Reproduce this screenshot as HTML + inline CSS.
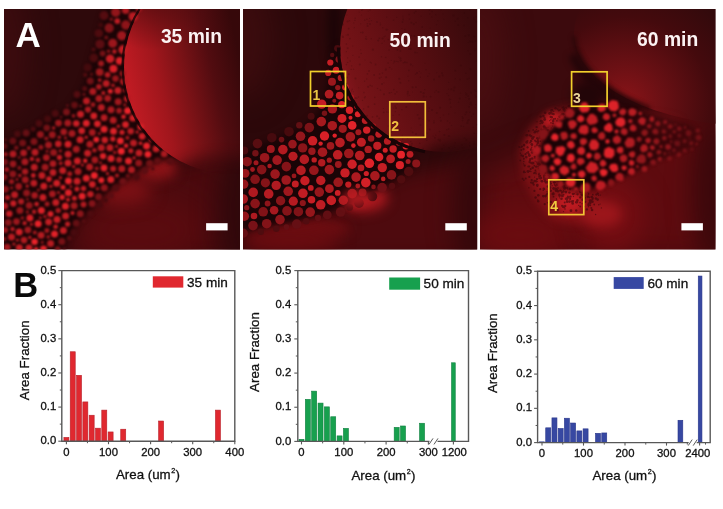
<!DOCTYPE html>
<html><head><meta charset="utf-8"><title>Figure</title>
<style>html,body{margin:0;padding:0;background:#fff;width:723px;height:509px;overflow:hidden}svg{display:block}</style></head>
<body><svg width="723" height="509" viewBox="0 0 723 509" font-family="'Liberation Sans', Arial, sans-serif">
<defs>
<mask id="m1" maskUnits="userSpaceOnUse" x="0" y="0" width="723" height="509"><rect x="0" y="0" width="723" height="509" fill="#fff"/><ellipse cx="228" cy="182" rx="62" ry="26" fill="#000" filter="url(#g8)"/></mask>
<filter id="g09" color-interpolation-filters="sRGB" x="-10%" y="-10%" width="120%" height="120%"><feGaussianBlur stdDeviation="0.85"/></filter>
<mask id="m2" maskUnits="userSpaceOnUse" x="0" y="0" width="723" height="509"><rect x="0" y="0" width="723" height="509" fill="#fff"/><ellipse cx="478" cy="162" rx="60" ry="22" fill="#000" filter="url(#g8)"/></mask>
<linearGradient id="nf3" gradientUnits="userSpaceOnUse" x1="610" y1="0" x2="700" y2="0"><stop offset="0" stop-color="#1c0306"/><stop offset="1" stop-color="#1c0306" stop-opacity="0.25"/></linearGradient>
<filter id="g07" color-interpolation-filters="sRGB" x="-10%" y="-10%" width="120%" height="120%"><feGaussianBlur stdDeviation="0.7"/></filter>
<clipPath id="cp1"><rect x="4" y="9" width="236" height="240.5"/></clipPath>
<clipPath id="cp2"><rect x="243" y="9" width="234.2" height="240.5"/></clipPath>
<clipPath id="cp3"><rect x="480" y="9" width="235.5" height="240.5"/></clipPath>
<filter id="g1" color-interpolation-filters="sRGB" x="-100%" y="-100%" width="300%" height="300%"><feGaussianBlur stdDeviation="0.6"/></filter><filter id="g2" color-interpolation-filters="sRGB" x="-100%" y="-100%" width="300%" height="300%"><feGaussianBlur stdDeviation="2"/></filter><filter id="g3" color-interpolation-filters="sRGB" x="-100%" y="-100%" width="300%" height="300%"><feGaussianBlur stdDeviation="3"/></filter><filter id="g4" color-interpolation-filters="sRGB" x="-100%" y="-100%" width="300%" height="300%"><feGaussianBlur stdDeviation="4"/></filter><filter id="g5" color-interpolation-filters="sRGB" x="-100%" y="-100%" width="300%" height="300%"><feGaussianBlur stdDeviation="5"/></filter><filter id="g6" color-interpolation-filters="sRGB" x="-100%" y="-100%" width="300%" height="300%"><feGaussianBlur stdDeviation="6"/></filter><filter id="g8" color-interpolation-filters="sRGB" x="-100%" y="-100%" width="300%" height="300%"><feGaussianBlur stdDeviation="8"/></filter><filter id="g10" color-interpolation-filters="sRGB" x="-100%" y="-100%" width="300%" height="300%"><feGaussianBlur stdDeviation="10"/></filter><filter id="g12" color-interpolation-filters="sRGB" x="-100%" y="-100%" width="300%" height="300%"><feGaussianBlur stdDeviation="12"/></filter><filter id="g15" color-interpolation-filters="sRGB" x="-100%" y="-100%" width="300%" height="300%"><feGaussianBlur stdDeviation="15"/></filter><filter id="g20" color-interpolation-filters="sRGB" x="-100%" y="-100%" width="300%" height="300%"><feGaussianBlur stdDeviation="20"/></filter>
<linearGradient id="cg1" gradientUnits="userSpaceOnUse" x1="124" y1="85" x2="240" y2="60">
 <stop offset="0" stop-color="#c41c24"/><stop offset="0.3" stop-color="#a0161c"/><stop offset="0.52" stop-color="#7a1216"/><stop offset="0.75" stop-color="#520c10"/><stop offset="1" stop-color="#36080a"/></linearGradient>
<radialGradient id="cg1t" gradientUnits="userSpaceOnUse" cx="150" cy="-10" r="60"><stop offset="0" stop-color="#3a080a" stop-opacity="0.7"/><stop offset="1" stop-color="#3a080a" stop-opacity="0"/></radialGradient>
<linearGradient id="cg2" gradientUnits="userSpaceOnUse" x1="342" y1="95" x2="477" y2="45">
 <stop offset="0" stop-color="#8c1620"/><stop offset="0.12" stop-color="#761317"/><stop offset="0.5" stop-color="#5c0e12"/><stop offset="1" stop-color="#3a0a0c"/></linearGradient>
<radialGradient id="cg3" gradientUnits="userSpaceOnUse" cx="625" cy="102" r="125">
 <stop offset="0" stop-color="#8a1418"/><stop offset="0.3" stop-color="#6a1014"/><stop offset="0.68" stop-color="#440a0d"/><stop offset="1" stop-color="#320a0c"/></radialGradient>
</defs>
<g clip-path="url(#cp1)">
<rect x="4" y="9" width="236" height="240.5" fill="#2e090b"/>
<ellipse cx="4" cy="50" rx="22" ry="70" fill="#3e0c0f" opacity="1" filter="url(#g15)"/>
<path d="M60 249.5L110 200L170 165L240 150L260 260L60 260Z" fill="#4c0a0e" opacity="1" filter="url(#g12)"/>
<ellipse cx="140" cy="230" rx="65" ry="35" fill="#5a0b0f" opacity="1" filter="url(#g15)"/>
<ellipse cx="245" cy="210" rx="28" ry="75" fill="#30080b" opacity="1" filter="url(#g12)"/>
<ellipse cx="155" cy="168" rx="22" ry="13" fill="#8a1317" opacity="1" filter="url(#g6)"/>
<ellipse cx="122" cy="190" rx="30" ry="16" fill="#7a1014" opacity="1" filter="url(#g8)"/>
<path d="M4 143L26 133L50 119L70 106L82 88L90 63L97 38L105 9L150 9L180 156L160 160L137 172L115 187L95 204L76 224L62 249.5L4 249.5Z" fill="#1c0406" opacity="1" filter="url(#g3)"/>
<circle cx="231" cy="67" r="107" fill="url(#cg1)" mask="url(#m1)"/>
<circle cx="231" cy="67" r="107" fill="url(#cg1t)"/>
<g filter="url(#g09)"><circle cx="77.1" cy="181.3" r="3.5" fill="#c81e24"/><circle cx="86.3" cy="123.2" r="3.5" fill="#dc2128"/><circle cx="104.3" cy="187.7" r="3.5" fill="#90151a"/><circle cx="26.2" cy="132.9" r="3.5" fill="#650f14"/><circle cx="50.6" cy="243.6" r="3.5" fill="#b61b21"/><circle cx="109.2" cy="28" r="4.7" fill="#7f1318"/><circle cx="29.9" cy="218" r="3.5" fill="#d41f26"/><circle cx="99.7" cy="72.1" r="3.9" fill="#9e181c"/><circle cx="62.7" cy="170.4" r="3.5" fill="#c21c22"/><circle cx="118.2" cy="101.8" r="3.5" fill="#a0181d"/><circle cx="113.5" cy="131.2" r="3.5" fill="#dc2127"/><circle cx="19.3" cy="247.8" r="3.5" fill="#c21d23"/><circle cx="52.3" cy="134.8" r="3.5" fill="#99161b"/><circle cx="68.4" cy="192.7" r="3.5" fill="#dd2128"/><circle cx="133.5" cy="143" r="3.5" fill="#b81b21"/><circle cx="156.1" cy="148.7" r="3.5" fill="#c41d23"/><circle cx="87.7" cy="67.4" r="4" fill="#440a0d"/><circle cx="101.3" cy="107.4" r="3.5" fill="#b71b21"/><circle cx="98.5" cy="196.8" r="3.5" fill="#761116"/><circle cx="100" cy="44.1" r="4.7" fill="#5b0d12"/><circle cx="4.7" cy="206" r="3.5" fill="#b21a21"/><circle cx="12.8" cy="173.9" r="3.5" fill="#8d141a"/><circle cx="29" cy="248" r="3.5" fill="#c31d23"/><circle cx="94.3" cy="175.4" r="3.5" fill="#ee232a"/><circle cx="113.4" cy="68.8" r="4" fill="#d81f27"/><circle cx="43.8" cy="186.2" r="3.5" fill="#c81d23"/><circle cx="80.2" cy="213.7" r="3.5" fill="#8c151a"/><circle cx="121.8" cy="35.7" r="4.7" fill="#9e171d"/><circle cx="47.7" cy="118.9" r="3.5" fill="#460a0d"/><circle cx="38.1" cy="223.8" r="3.5" fill="#e72229"/><circle cx="57" cy="219.5" r="3.5" fill="#c91e24"/><circle cx="78" cy="171.6" r="3.5" fill="#a8191e"/><circle cx="92.1" cy="203.4" r="3.5" fill="#841319"/><circle cx="80.5" cy="114.2" r="3.5" fill="#c51d24"/><circle cx="92.8" cy="91.5" r="3.5" fill="#ad191f"/><circle cx="66.5" cy="112" r="3.5" fill="#791217"/><circle cx="4.5" cy="161.9" r="3.5" fill="#7a1116"/><circle cx="106.2" cy="83.5" r="3.5" fill="#ba1b21"/><circle cx="87.6" cy="153.3" r="3.5" fill="#c21d23"/><circle cx="138.7" cy="163" r="3.5" fill="#91151a"/><circle cx="80.1" cy="139.7" r="3.5" fill="#c81d23"/><circle cx="110.1" cy="58.8" r="4.3" fill="#c71d24"/><circle cx="115.7" cy="12.2" r="4.7" fill="#92151a"/><circle cx="41.1" cy="235.3" r="3.5" fill="#b31b20"/><circle cx="41.4" cy="210.5" r="3.5" fill="#da2027"/><circle cx="68.1" cy="154.2" r="3.5" fill="#bb1c22"/><circle cx="117.9" cy="90.6" r="3.5" fill="#c31d23"/><circle cx="86.3" cy="178.3" r="3.5" fill="#dc2127"/><circle cx="53.6" cy="152.6" r="3.5" fill="#96161b"/><circle cx="19.2" cy="232.1" r="3.5" fill="#d11f26"/><circle cx="56.7" cy="183.2" r="3.5" fill="#ce1f25"/><circle cx="164.2" cy="153.7" r="3.5" fill="#aa191f"/><circle cx="22.6" cy="142.9" r="3.5" fill="#721015"/><circle cx="34.3" cy="167.2" r="3.5" fill="#bb1c22"/><circle cx="121.8" cy="168.8" r="3.5" fill="#ae1a1f"/><circle cx="34" cy="141.4" r="3.5" fill="#7e1217"/><circle cx="68" cy="144.2" r="3.5" fill="#d11e25"/><circle cx="131.5" cy="169.7" r="3.5" fill="#af1a20"/><circle cx="35" cy="152.3" r="3.5" fill="#b81b22"/><circle cx="61.8" cy="241.4" r="3.5" fill="#771116"/><circle cx="99" cy="98.5" r="3.5" fill="#a9191e"/><circle cx="74.1" cy="205.7" r="3.5" fill="#a0181c"/><circle cx="12.9" cy="141.1" r="3.5" fill="#640e13"/><circle cx="111" cy="158.6" r="3.5" fill="#d92027"/><circle cx="14.6" cy="194.7" r="3.5" fill="#ba1b22"/><circle cx="72" cy="133.6" r="3.5" fill="#a5181e"/><circle cx="113.2" cy="120.2" r="3.5" fill="#b11a1f"/><circle cx="77.4" cy="161" r="3.5" fill="#ce1e24"/><circle cx="104.1" cy="129.2" r="3.5" fill="#df2128"/><circle cx="127.6" cy="110.8" r="3.5" fill="#ed232a"/><circle cx="93.8" cy="57.9" r="4.3" fill="#4b0b0e"/><circle cx="55.8" cy="202.4" r="3.5" fill="#c31d23"/><circle cx="110.8" cy="179.6" r="3.5" fill="#d72027"/><circle cx="25.3" cy="179.7" r="3.5" fill="#9f171d"/><circle cx="68" cy="163.1" r="3.5" fill="#c51e24"/><circle cx="8.2" cy="222.6" r="3.5" fill="#8b1519"/><circle cx="24.9" cy="161.8" r="3.5" fill="#a8181f"/><circle cx="13" cy="154.1" r="3.5" fill="#b01920"/><circle cx="86.5" cy="100.9" r="3.5" fill="#bb1b21"/><circle cx="146.6" cy="146.1" r="3.5" fill="#e62229"/><circle cx="133.2" cy="16.6" r="4.7" fill="#b81b22"/><circle cx="101.3" cy="147.7" r="3.5" fill="#b31a20"/><circle cx="65.4" cy="206.2" r="3.5" fill="#dd2127"/><circle cx="5.3" cy="189.3" r="3.5" fill="#8a1419"/><circle cx="63.4" cy="230.4" r="3.5" fill="#c21d23"/><circle cx="125.8" cy="25" r="4.7" fill="#8d1419"/><circle cx="54.5" cy="234" r="3.5" fill="#e22128"/><circle cx="111" cy="109.8" r="3.5" fill="#aa191f"/><circle cx="55.3" cy="113.4" r="3.5" fill="#4c0b0f"/><circle cx="115.9" cy="188.1" r="3.5" fill="#530c10"/><circle cx="123" cy="49.7" r="4.6" fill="#c21d23"/><circle cx="89.9" cy="144.3" r="3.5" fill="#ab1a1f"/><circle cx="139" cy="153.1" r="3.5" fill="#bf1c22"/><circle cx="29.2" cy="205.6" r="3.5" fill="#91151a"/><circle cx="89.6" cy="167.1" r="3.5" fill="#b41b20"/><circle cx="48.5" cy="145.1" r="3.5" fill="#a1181e"/><circle cx="19.9" cy="210.5" r="3.5" fill="#94151a"/><circle cx="42.9" cy="197.4" r="3.5" fill="#c61d23"/><circle cx="67.8" cy="123" r="3.5" fill="#a3181e"/><circle cx="41.9" cy="175.5" r="3.5" fill="#c01c22"/><circle cx="40.4" cy="134.4" r="3.5" fill="#93151b"/><circle cx="65.6" cy="215.9" r="3.5" fill="#c21d23"/><circle cx="82.1" cy="196.3" r="3.5" fill="#e52229"/><circle cx="132.9" cy="117.9" r="3.5" fill="#d21f25"/><circle cx="170.4" cy="161.2" r="3.5" fill="#590d11"/><circle cx="109.9" cy="147.7" r="3.5" fill="#bb1c21"/><circle cx="11.5" cy="237" r="3.5" fill="#b91b21"/><circle cx="76.3" cy="149.2" r="3.5" fill="#a7191e"/><circle cx="121.3" cy="151.3" r="3.5" fill="#ef232b"/><circle cx="74" cy="232.4" r="3.5" fill="#480a0e"/><circle cx="149.6" cy="163.2" r="3.5" fill="#6f1114"/><circle cx="26.6" cy="192.9" r="3.5" fill="#8f151a"/><circle cx="45.1" cy="167.2" r="3.5" fill="#9e171c"/><circle cx="128.5" cy="161.1" r="3.5" fill="#dd2127"/><circle cx="122.8" cy="181.4" r="3.4" fill="#6e1015"/><circle cx="92.3" cy="132.5" r="3.4" fill="#a6181d"/><circle cx="46.8" cy="127.8" r="3.4" fill="#741115"/><circle cx="48.6" cy="222" r="3.4" fill="#c01d22"/><circle cx="33.8" cy="183.2" r="3.4" fill="#b91b22"/><circle cx="90.3" cy="81" r="3.5" fill="#6f1015"/><circle cx="53" cy="172.5" r="3.4" fill="#be1c23"/><circle cx="104" cy="168" r="3.4" fill="#e32228"/><circle cx="81.7" cy="130.8" r="3.4" fill="#cb1e25"/><circle cx="39.1" cy="123.5" r="3.4" fill="#4c0b0f"/><circle cx="46.3" cy="157.6" r="3.4" fill="#a8181e"/><circle cx="18.7" cy="186.5" r="3.4" fill="#9a161c"/><circle cx="27.9" cy="229.9" r="3.4" fill="#a1181d"/><circle cx="16.5" cy="221.6" r="3.4" fill="#9d171d"/><circle cx="24" cy="240.1" r="3.4" fill="#b01a1f"/><circle cx="104.1" cy="117.7" r="3.4" fill="#b51a20"/><circle cx="123.6" cy="81.6" r="3.5" fill="#b41a20"/><circle cx="142.2" cy="136.3" r="3.4" fill="#ce1e25"/><circle cx="147.9" cy="154.3" r="3.4" fill="#ec232a"/><circle cx="93.8" cy="115.9" r="3.4" fill="#d11f25"/><circle cx="23.6" cy="152.9" r="3.4" fill="#ab1920"/><circle cx="144.8" cy="170.8" r="3.4" fill="#5c0e12"/><circle cx="77.1" cy="94.5" r="3.4" fill="#540c10"/><circle cx="120.4" cy="140.9" r="3.4" fill="#e9232a"/><circle cx="125.5" cy="124.6" r="3.4" fill="#d72026"/><circle cx="76.2" cy="223.2" r="3.4" fill="#640f13"/><circle cx="94.9" cy="160" r="3.4" fill="#a6181d"/><circle cx="74.5" cy="105.1" r="3.4" fill="#630e12"/><circle cx="7.2" cy="247.2" r="3.4" fill="#a2171d"/><circle cx="107.7" cy="98.3" r="3.4" fill="#a3181d"/><circle cx="13" cy="164" r="3.4" fill="#98161c"/><circle cx="58.5" cy="123.1" r="3.4" fill="#9e171c"/><circle cx="112.7" cy="43.2" r="4.5" fill="#9c161c"/><circle cx="97.4" cy="123.8" r="3.4" fill="#d72026"/><circle cx="92.3" cy="184.3" r="3.4" fill="#ca1e24"/><circle cx="52.4" cy="193.9" r="3.4" fill="#a5181e"/><circle cx="68.4" cy="180.9" r="3.4" fill="#e9232a"/><circle cx="53" cy="163.7" r="3.4" fill="#ac191f"/><circle cx="130.7" cy="131.2" r="3.3" fill="#b71b21"/><circle cx="43.5" cy="248.9" r="3.3" fill="#e32228"/><circle cx="4.2" cy="177.1" r="3.3" fill="#811217"/><circle cx="58.3" cy="143.9" r="3.3" fill="#bf1c22"/><circle cx="157.5" cy="160.9" r="3.3" fill="#600e12"/><circle cx="63.7" cy="131.9" r="3.3" fill="#a5181e"/><circle cx="127.1" cy="98.7" r="3.3" fill="#b21a20"/><circle cx="76.3" cy="123.5" r="3.3" fill="#cb1e25"/><circle cx="136.5" cy="177.1" r="3.3" fill="#4c0b0f"/><circle cx="34.6" cy="241.7" r="3.3" fill="#eb232a"/><circle cx="104.1" cy="15.6" r="4.5" fill="#550c10"/><circle cx="140.7" cy="126.7" r="3.3" fill="#d72026"/><circle cx="104.8" cy="140.1" r="3.3" fill="#c91e24"/><circle cx="34.6" cy="195.4" r="3.3" fill="#a7181e"/><circle cx="90.4" cy="194.2" r="3.3" fill="#bd1c22"/><circle cx="9.2" cy="213.8" r="3.3" fill="#c61d24"/><circle cx="4.1" cy="146.3" r="3.2" fill="#5b0d11"/><circle cx="119.7" cy="60.8" r="3.9" fill="#db2027"/><circle cx="103" cy="156.1" r="3.2" fill="#dc2127"/><circle cx="17.4" cy="133.9" r="3.2" fill="#4b0b0f"/><circle cx="25.1" cy="171.6" r="3.2" fill="#ab191f"/><circle cx="98.9" cy="33.3" r="4.3" fill="#4e0b0f"/><circle cx="88" cy="109.6" r="3.1" fill="#ad191f"/><circle cx="21.1" cy="201.5" r="3.1" fill="#ad1a20"/><circle cx="115.5" cy="78.6" r="3.3" fill="#98161b"/><circle cx="90.5" cy="213.8" r="3.1" fill="#4f0b0f"/><circle cx="13.3" cy="203.4" r="3.1" fill="#c61d24"/><circle cx="113.1" cy="168.8" r="3" fill="#b61b20"/><circle cx="50.5" cy="213.9" r="3" fill="#d92027"/><circle cx="83.5" cy="204.4" r="3" fill="#b11a20"/><circle cx="119.1" cy="159.7" r="3" fill="#b01a1f"/><circle cx="101.3" cy="180.3" r="3" fill="#e82229"/><circle cx="119.1" cy="110.7" r="2.9" fill="#a1181d"/><circle cx="5.3" cy="230" r="2.9" fill="#a0171d"/><circle cx="96.3" cy="139.6" r="2.9" fill="#ed232b"/><circle cx="100" cy="204.9" r="2.9" fill="#480a0e"/><circle cx="111.1" cy="195.7" r="2.9" fill="#5b0d12"/><circle cx="57.7" cy="249.2" r="2.9" fill="#7e1217"/><circle cx="49" cy="179.1" r="2.8" fill="#ce1e25"/><circle cx="125.6" cy="10.3" r="3.7" fill="#ac191f"/><circle cx="98.9" cy="86.8" r="2.8" fill="#aa191f"/><circle cx="62.1" cy="197.3" r="2.7" fill="#da2127"/><circle cx="122.6" cy="73.6" r="3" fill="#9b171c"/><circle cx="11.5" cy="181.6" r="2.7" fill="#99161c"/><circle cx="83.5" cy="188.5" r="2.7" fill="#bd1c22"/><circle cx="107.6" cy="74.8" r="2.9" fill="#b31a20"/><circle cx="58.2" cy="210.4" r="2.7" fill="#a9191e"/><circle cx="84.7" cy="88.6" r="2.6" fill="#540c10"/><circle cx="122" cy="132.3" r="2.6" fill="#cc1e24"/><circle cx="130.8" cy="150.8" r="2.6" fill="#bf1c22"/><circle cx="67.6" cy="224.1" r="2.6" fill="#be1d22"/><circle cx="112.8" cy="138.9" r="2.6" fill="#d01f25"/><circle cx="7.5" cy="197.5" r="2.6" fill="#b71b22"/><circle cx="59.5" cy="157.4" r="2.6" fill="#c61d24"/><circle cx="69.4" cy="238.3" r="2.5" fill="#560c11"/><circle cx="40.9" cy="147.3" r="2.5" fill="#94151b"/><circle cx="6.7" cy="169.4" r="2.5" fill="#a8181f"/><circle cx="33.1" cy="128.9" r="2.5" fill="#4c0b0f"/><circle cx="47.1" cy="204.1" r="2.5" fill="#a0181d"/><circle cx="110.3" cy="91.3" r="2.5" fill="#e22229"/><circle cx="74.4" cy="198.3" r="2.5" fill="#cb1e24"/><circle cx="63" cy="187.2" r="2.5" fill="#d92026"/><circle cx="76.9" cy="189" r="2.5" fill="#ca1e24"/><circle cx="101.1" cy="63.5" r="2.9" fill="#a0181d"/><circle cx="46.9" cy="230.6" r="2.5" fill="#a2181d"/><circle cx="69.7" cy="173.7" r="2.5" fill="#ab191e"/><circle cx="36.6" cy="204.1" r="2.4" fill="#c61d24"/><circle cx="37.9" cy="160.1" r="2.4" fill="#aa191f"/><circle cx="93" cy="104.7" r="2.4" fill="#9e171c"/><circle cx="33.3" cy="175.5" r="2.4" fill="#c81d24"/><circle cx="150.9" cy="139.8" r="2.4" fill="#ac191f"/><circle cx="12.5" cy="229.1" r="2.3" fill="#b31b21"/><circle cx="105.7" cy="200.3" r="2.3" fill="#440a0d"/><circle cx="123.5" cy="116.8" r="2.3" fill="#d92027"/><circle cx="138.9" cy="9.1" r="3.1" fill="#9e171d"/><circle cx="16.3" cy="147.7" r="2.3" fill="#771116"/><circle cx="102.6" cy="53.5" r="2.9" fill="#751116"/><circle cx="127.9" cy="176" r="2.3" fill="#660f13"/><circle cx="94.4" cy="150.2" r="2.3" fill="#ae1a1f"/><circle cx="55.6" cy="226.8" r="2.3" fill="#ca1e24"/><circle cx="34.1" cy="211.7" r="2.2" fill="#b81b21"/><circle cx="36.1" cy="249.2" r="2.2" fill="#ec232a"/><circle cx="31.9" cy="158.9" r="2.2" fill="#be1c23"/><circle cx="126.1" cy="145.8" r="2.2" fill="#df2128"/><circle cx="5.5" cy="154.3" r="2.2" fill="#9e171d"/><circle cx="85.2" cy="160.8" r="2.2" fill="#e22228"/><circle cx="117.3" cy="21.1" r="2.9" fill="#bf1c23"/><circle cx="125.1" cy="90.5" r="2.1" fill="#a0181d"/><circle cx="19.4" cy="167.9" r="2.1" fill="#841318"/><circle cx="28.8" cy="148.1" r="2.1" fill="#92151b"/><circle cx="4.2" cy="239" r="2.1" fill="#94151a"/><circle cx="24.6" cy="223.2" r="2.1" fill="#c11d23"/><circle cx="117" cy="175.6" r="2.1" fill="#a7191d"/><circle cx="46.3" cy="138.5" r="2.1" fill="#92151b"/><circle cx="60.7" cy="163.3" r="2" fill="#aa191f"/><circle cx="127.4" cy="137.8" r="2" fill="#a7191e"/><circle cx="72.5" cy="213.1" r="2" fill="#d31f26"/><circle cx="85.2" cy="74.9" r="2.1" fill="#540c10"/><circle cx="103.3" cy="92.9" r="2" fill="#c11d23"/><circle cx="96.7" cy="168.6" r="2" fill="#a2181d"/><circle cx="64.2" cy="248.9" r="2" fill="#4d0b0f"/><circle cx="68" cy="199.7" r="1.9" fill="#d62026"/><circle cx="34.8" cy="232.5" r="1.9" fill="#a9191e"/><circle cx="73.5" cy="115.8" r="1.9" fill="#9a161c"/><circle cx="100.6" cy="25" r="2.5" fill="#40090c"/><circle cx="22.3" cy="218" r="1.8" fill="#97161b"/><circle cx="113" cy="85.3" r="1.9" fill="#a8181e"/><circle cx="59.3" cy="137.3" r="1.8" fill="#a6191e"/><circle cx="99.7" cy="80.1" r="1.9" fill="#ae191f"/><circle cx="19.8" cy="175.5" r="1.8" fill="#b71b22"/><circle cx="118.4" cy="126.3" r="1.8" fill="#b91b21"/><circle cx="48.2" cy="236.9" r="1.8" fill="#a1181d"/><circle cx="140.5" cy="143.3" r="1.8" fill="#e22128"/><circle cx="97.5" cy="188.7" r="1.8" fill="#a1171c"/><circle cx="44.9" cy="216.5" r="1.7" fill="#a4181d"/><circle cx="53.6" cy="128" r="1.7" fill="#b21a21"/><circle cx="114.4" cy="51.5" r="2.2" fill="#c01c23"/><circle cx="60.5" cy="177.7" r="1.7" fill="#b31b20"/><circle cx="114.8" cy="152.4" r="1.7" fill="#aa191e"/><circle cx="84" cy="94.4" r="1.6" fill="#6e1015"/><circle cx="60.3" cy="150.9" r="1.6" fill="#a8191e"/><circle cx="83.7" cy="221.2" r="1.6" fill="#5b0d12"/><circle cx="17.4" cy="240.1" r="1.6" fill="#b51b20"/><circle cx="27.4" cy="211.9" r="1.6" fill="#98161b"/><circle cx="27.2" cy="186.1" r="1.6" fill="#c71d24"/><circle cx="29.9" cy="237.4" r="1.6" fill="#cc1e24"/><circle cx="91.5" cy="74.3" r="1.7" fill="#590d11"/><circle cx="38.4" cy="190.1" r="1.5" fill="#98161b"/><circle cx="93.5" cy="49.5" r="2" fill="#4e0b0f"/><circle cx="106.2" cy="37.5" r="2" fill="#6f1014"/><circle cx="73.7" cy="166.5" r="1.5" fill="#ce1e24"/><circle cx="107.5" cy="173.4" r="1.5" fill="#d11f25"/><circle cx="152.9" cy="168.7" r="1.5" fill="#41090d"/><circle cx="86.2" cy="137.3" r="1.5" fill="#d82027"/><circle cx="5.5" cy="139.8" r="1.5" fill="#590d11"/><circle cx="67.5" cy="105.5" r="1.5" fill="#5e0d12"/><circle cx="50.9" cy="186.2" r="1.5" fill="#c91d24"/><circle cx="13.9" cy="243.9" r="1.5" fill="#c91e24"/><circle cx="70.9" cy="186.7" r="1.4" fill="#ac191f"/><circle cx="27.4" cy="199.3" r="1.4" fill="#8f1519"/><circle cx="42.2" cy="242.3" r="1.4" fill="#a5181d"/><circle cx="134.1" cy="157.9" r="1.4" fill="#ed232a"/><circle cx="82.4" cy="165.1" r="1.4" fill="#d21f26"/><circle cx="137.1" cy="132.1" r="1.4" fill="#eb232a"/><circle cx="40.3" cy="217.8" r="1.4" fill="#b61b20"/><circle cx="31.4" cy="224.3" r="1.4" fill="#d21f26"/><circle cx="108.6" cy="51.2" r="1.8" fill="#8c1419"/><circle cx="19.2" cy="157.5" r="1.4" fill="#841319"/><circle cx="61" cy="117.1" r="1.4" fill="#670f14"/><circle cx="116.5" cy="146.4" r="1.4" fill="#cc1e24"/><circle cx="65.5" cy="138" r="1.4" fill="#b61a20"/><circle cx="47.1" cy="151.3" r="1.4" fill="#a8181e"/><circle cx="111.3" cy="19.3" r="1.8" fill="#7b1217"/><circle cx="58.5" cy="192.6" r="1.4" fill="#c91d24"/><circle cx="17" cy="179.5" r="1.3" fill="#bc1b22"/><circle cx="100.5" cy="162.7" r="1.3" fill="#c41d23"/><circle cx="11.6" cy="187.9" r="1.3" fill="#b41a20"/><circle cx="80.6" cy="106.1" r="1.3" fill="#7a1217"/><circle cx="124.8" cy="104.9" r="1.3" fill="#be1c22"/><circle cx="99.3" cy="133.6" r="1.3" fill="#ca1e24"/></g>
<path d="M139.5 9 A108.3 108.3 0 0 0 161.4 150" fill="none" stroke="#180406" stroke-width="2.2" opacity="0.8" filter="url(#g1)"/>
</g>
<g clip-path="url(#cp2)">
<rect x="243" y="9" width="234.2" height="240.5" fill="#2c080a"/>
<ellipse cx="243" cy="40" rx="30" ry="60" fill="#3c0c0e" opacity="1" filter="url(#g15)"/>
<ellipse cx="334" cy="30" rx="7" ry="40" fill="#1c0507" opacity="1" filter="url(#g4)"/>
<path d="M243 230L300 218L350 205L400 175L477 160L477 260L243 260Z" fill="#4e0a0e" opacity="1" filter="url(#g10)"/>
<ellipse cx="362" cy="198" rx="26" ry="14" fill="#a8181e" opacity="1" filter="url(#g6)"/>
<ellipse cx="300" cy="228" rx="50" ry="10" fill="#6e0d11" opacity="1" filter="url(#g6)"/>
<ellipse cx="290" cy="240" rx="50" ry="12" fill="#6a0c10" opacity="1" filter="url(#g8)"/>
<ellipse cx="474" cy="210" rx="22" ry="70" fill="#36080b" opacity="1" filter="url(#g12)"/>
<path d="M243 153L262 144L282 136L303 126L318 113L325 93L329 70L333 52L342 44L415 166L399 177L372 193L342 207L294 222L243 231Z" fill="#1a0406" opacity="1" filter="url(#g3)"/>
<circle cx="444.5" cy="47.5" r="104.5" fill="url(#cg2)" mask="url(#m2)"/>
<g fill="#2a0608" opacity="0.22" filter="url(#g1)"><circle cx="440.1" cy="107.7" r="1"/><circle cx="469.2" cy="106.9" r="0.8"/><circle cx="402.7" cy="139.1" r="0.8"/><circle cx="430.4" cy="9.3" r="0.6"/><circle cx="473.8" cy="141.6" r="0.9"/><circle cx="380.5" cy="90.1" r="0.9"/><circle cx="392.2" cy="40" r="0.6"/><circle cx="348.9" cy="74.3" r="1"/><circle cx="367.1" cy="115.7" r="0.9"/><circle cx="460.5" cy="93" r="0.6"/><circle cx="411.6" cy="22.4" r="0.5"/><circle cx="464.3" cy="13.1" r="0.8"/><circle cx="361.2" cy="53.5" r="0.8"/><circle cx="370.1" cy="9.9" r="0.8"/><circle cx="470.5" cy="69.1" r="1.1"/><circle cx="386" cy="68.2" r="0.5"/><circle cx="393.8" cy="89.6" r="0.8"/><circle cx="462.3" cy="116.8" r="0.7"/><circle cx="359.2" cy="11.9" r="0.5"/><circle cx="473.5" cy="114.2" r="0.9"/><circle cx="453.5" cy="15.7" r="1.1"/><circle cx="416" cy="22.5" r="0.7"/><circle cx="355.5" cy="78.5" r="1"/><circle cx="354.9" cy="20.4" r="0.7"/><circle cx="475.5" cy="41.1" r="1"/><circle cx="361.5" cy="15" r="0.6"/><circle cx="387.7" cy="29.6" r="0.6"/><circle cx="440.9" cy="120.7" r="1"/><circle cx="432.1" cy="11.5" r="0.8"/><circle cx="447" cy="93.6" r="0.7"/><circle cx="440.3" cy="117.6" r="0.7"/><circle cx="475" cy="19.6" r="0.6"/><circle cx="470.1" cy="41.4" r="1"/><circle cx="433.1" cy="136" r="0.6"/><circle cx="428.9" cy="120.7" r="1"/><circle cx="447.5" cy="121" r="0.7"/><circle cx="471.5" cy="116.3" r="0.6"/><circle cx="423.2" cy="148.4" r="0.7"/><circle cx="442" cy="73.2" r="1"/><circle cx="446.8" cy="129.7" r="0.8"/><circle cx="448.6" cy="82.3" r="0.6"/><circle cx="420.4" cy="77.2" r="0.6"/><circle cx="389.1" cy="50" r="0.8"/><circle cx="368.1" cy="86.8" r="1.1"/><circle cx="393.1" cy="115.3" r="0.6"/><circle cx="475.2" cy="95.1" r="0.6"/><circle cx="470.8" cy="102.6" r="1"/><circle cx="388.1" cy="63.1" r="0.8"/><circle cx="434.6" cy="137.3" r="0.5"/><circle cx="429.3" cy="108.1" r="0.6"/><circle cx="434" cy="79.5" r="1"/><circle cx="388.3" cy="112.2" r="0.6"/><circle cx="388.3" cy="126.1" r="0.5"/><circle cx="388.3" cy="39.6" r="0.8"/><circle cx="462.1" cy="145" r="0.7"/><circle cx="379.6" cy="78.1" r="0.9"/><circle cx="402.2" cy="109.7" r="0.5"/><circle cx="410.9" cy="130.8" r="0.6"/><circle cx="391.2" cy="60.3" r="0.6"/><circle cx="374.6" cy="104.2" r="0.9"/><circle cx="359.1" cy="57.1" r="0.8"/><circle cx="417.7" cy="114.8" r="0.9"/><circle cx="364.8" cy="20.1" r="0.8"/><circle cx="408" cy="102.6" r="0.6"/><circle cx="365.4" cy="96.4" r="0.5"/><circle cx="360.8" cy="23.8" r="0.6"/><circle cx="409.5" cy="19.1" r="0.7"/><circle cx="389.2" cy="110" r="0.6"/><circle cx="426.9" cy="133.6" r="0.8"/><circle cx="407.5" cy="138.3" r="0.6"/><circle cx="459.8" cy="98.6" r="1"/><circle cx="378.2" cy="40.5" r="1.1"/><circle cx="448.6" cy="95.5" r="0.8"/><circle cx="467.4" cy="122.9" r="1.1"/><circle cx="382.6" cy="38.5" r="1.1"/><circle cx="412.7" cy="132.3" r="0.9"/><circle cx="429.4" cy="10.1" r="0.8"/><circle cx="455.3" cy="78.7" r="0.7"/><circle cx="443.7" cy="19.2" r="0.5"/><circle cx="366.8" cy="79" r="0.7"/><circle cx="434" cy="120.7" r="0.6"/><circle cx="400.7" cy="60.5" r="1.1"/><circle cx="421.2" cy="16.2" r="0.6"/><circle cx="442.7" cy="75.5" r="0.9"/><circle cx="408.8" cy="70.4" r="0.8"/><circle cx="426.8" cy="140.4" r="0.7"/><circle cx="467.9" cy="120.8" r="0.9"/><circle cx="395.1" cy="121.1" r="0.5"/><circle cx="470.2" cy="54.1" r="1"/><circle cx="371.3" cy="38.7" r="0.7"/><circle cx="365" cy="60.1" r="0.5"/><circle cx="474.3" cy="36.6" r="0.9"/><circle cx="418.8" cy="101.1" r="0.9"/><circle cx="364.6" cy="81.3" r="0.7"/><circle cx="474.9" cy="90.1" r="0.8"/><circle cx="381.2" cy="77.2" r="0.6"/><circle cx="464" cy="25.6" r="0.8"/><circle cx="379.3" cy="118.4" r="0.9"/><circle cx="397.8" cy="41.3" r="0.9"/><circle cx="423.7" cy="96.6" r="1"/><circle cx="448.6" cy="128.9" r="0.9"/><circle cx="474.1" cy="144.3" r="1"/><circle cx="410.8" cy="45" r="0.6"/><circle cx="440" cy="139.5" r="0.7"/><circle cx="409.5" cy="44.3" r="1.1"/><circle cx="351.6" cy="65.9" r="0.6"/><circle cx="454.4" cy="87.5" r="1.1"/><circle cx="476.4" cy="21.6" r="0.9"/><circle cx="466.3" cy="94.4" r="1.1"/><circle cx="425.9" cy="138.3" r="0.9"/><circle cx="401.6" cy="109.6" r="0.6"/><circle cx="403.2" cy="19.6" r="0.8"/><circle cx="411.4" cy="22.7" r="1"/><circle cx="354.3" cy="27.7" r="0.6"/><circle cx="419.2" cy="118.5" r="1"/><circle cx="368.3" cy="106.8" r="1"/><circle cx="395.3" cy="106.3" r="0.8"/><circle cx="423.6" cy="93.2" r="1.1"/><circle cx="409.1" cy="14.5" r="0.7"/><circle cx="470.2" cy="10.1" r="0.8"/><circle cx="384.1" cy="36.8" r="0.7"/><circle cx="439.6" cy="131.6" r="0.8"/><circle cx="380.4" cy="24.8" r="0.8"/><circle cx="408" cy="9.3" r="0.5"/><circle cx="449" cy="136" r="1.1"/><circle cx="467.8" cy="17.8" r="0.7"/><circle cx="342.9" cy="24.4" r="1.1"/><circle cx="458.5" cy="102.3" r="0.7"/><circle cx="430.6" cy="96.6" r="0.9"/><circle cx="436.8" cy="72.6" r="0.6"/><circle cx="473.9" cy="19.1" r="0.9"/><circle cx="363.9" cy="92.6" r="0.8"/><circle cx="450.8" cy="99.4" r="0.6"/><circle cx="450.2" cy="103.3" r="0.7"/><circle cx="424.8" cy="89.6" r="0.7"/><circle cx="369" cy="70.9" r="0.9"/><circle cx="473.2" cy="127.1" r="0.7"/><circle cx="407.8" cy="95.8" r="0.6"/><circle cx="451.6" cy="125.4" r="0.6"/><circle cx="394.5" cy="61.6" r="1"/><circle cx="382.8" cy="27.8" r="0.7"/><circle cx="407.9" cy="76.2" r="0.6"/><circle cx="382" cy="83.9" r="1"/><circle cx="346.4" cy="51.7" r="0.6"/><circle cx="406.9" cy="41" r="0.9"/><circle cx="399.7" cy="130.2" r="0.8"/><circle cx="383.7" cy="112.3" r="0.9"/><circle cx="404.2" cy="35.1" r="0.7"/><circle cx="414.3" cy="12.9" r="0.8"/><circle cx="371.3" cy="63" r="0.7"/><circle cx="468" cy="50.7" r="0.6"/><circle cx="384.4" cy="41" r="0.6"/><circle cx="468.7" cy="120.1" r="1.1"/><circle cx="410.3" cy="103.3" r="0.8"/><circle cx="353.5" cy="69.2" r="0.7"/><circle cx="375.6" cy="64.5" r="0.9"/><circle cx="414.4" cy="35.9" r="1"/><circle cx="415.7" cy="11.5" r="0.8"/><circle cx="399.3" cy="78.8" r="1.1"/><circle cx="362.5" cy="100.4" r="0.6"/><circle cx="379.4" cy="38.3" r="0.9"/><circle cx="391.4" cy="92.4" r="0.7"/><circle cx="372.9" cy="49.7" r="1.1"/><circle cx="462.5" cy="147.9" r="0.6"/><circle cx="469.8" cy="112.3" r="0.7"/><circle cx="350.1" cy="61" r="0.8"/><circle cx="453.7" cy="90.4" r="0.9"/><circle cx="407.9" cy="91.8" r="1.1"/><circle cx="393.6" cy="20.2" r="0.8"/><circle cx="355.2" cy="18.2" r="0.7"/><circle cx="398.4" cy="46.3" r="1"/><circle cx="465.3" cy="35.9" r="1"/><circle cx="346.4" cy="64.6" r="0.8"/><circle cx="443.5" cy="115.1" r="0.7"/><circle cx="393.5" cy="63" r="0.6"/><circle cx="408.7" cy="80.8" r="0.7"/><circle cx="363.6" cy="108.9" r="0.8"/><circle cx="389.7" cy="67.5" r="0.8"/><circle cx="360.8" cy="32.5" r="0.8"/><circle cx="465.7" cy="97.5" r="0.5"/><circle cx="369.6" cy="18.4" r="0.6"/><circle cx="366.9" cy="19.2" r="0.8"/><circle cx="412.5" cy="92" r="0.5"/><circle cx="403.1" cy="18" r="0.5"/><circle cx="397.1" cy="104" r="0.6"/><circle cx="474.9" cy="50.7" r="0.8"/><circle cx="426.4" cy="96.8" r="0.6"/><circle cx="401.9" cy="28.5" r="0.6"/><circle cx="412.6" cy="87.2" r="1"/><circle cx="346.4" cy="44.1" r="0.8"/><circle cx="362.5" cy="9.1" r="0.9"/><circle cx="352.9" cy="55.4" r="0.6"/><circle cx="399.2" cy="114.7" r="0.7"/><circle cx="418.7" cy="46" r="1.1"/><circle cx="402.5" cy="22" r="0.9"/><circle cx="398.1" cy="61.7" r="0.7"/><circle cx="465.8" cy="73.4" r="0.7"/><circle cx="364.7" cy="97.5" r="0.9"/><circle cx="380.4" cy="23" r="0.6"/><circle cx="400.4" cy="82.8" r="1"/><circle cx="417.3" cy="45.9" r="1.1"/><circle cx="433.9" cy="122.5" r="0.9"/><circle cx="402.2" cy="135.2" r="0.5"/><circle cx="468.9" cy="35.1" r="1.1"/><circle cx="396.8" cy="61.4" r="0.7"/><circle cx="420.5" cy="125.1" r="0.8"/><circle cx="383.4" cy="108.5" r="0.6"/><circle cx="438.5" cy="139.6" r="0.9"/><circle cx="449" cy="147.7" r="0.7"/><circle cx="382.4" cy="73.1" r="0.8"/><circle cx="346.9" cy="77.4" r="1"/><circle cx="423.9" cy="135.9" r="0.8"/><circle cx="451.3" cy="89.2" r="1"/><circle cx="385.7" cy="57.5" r="0.8"/><circle cx="398.9" cy="57.1" r="0.7"/><circle cx="352.7" cy="46" r="0.6"/><circle cx="347.6" cy="62.5" r="0.8"/><circle cx="355.5" cy="98" r="1"/><circle cx="362.7" cy="32.4" r="1"/><circle cx="415.6" cy="74.2" r="0.8"/><circle cx="410.7" cy="141.6" r="0.8"/><circle cx="466.3" cy="140.1" r="1"/><circle cx="429.7" cy="14" r="0.7"/><circle cx="410.9" cy="64.4" r="1"/><circle cx="422.7" cy="119.5" r="0.5"/><circle cx="412" cy="143.7" r="0.9"/><circle cx="440" cy="140.8" r="1.1"/><circle cx="475.5" cy="107.8" r="0.6"/><circle cx="348" cy="34.7" r="1"/><circle cx="469.7" cy="98.8" r="0.8"/><circle cx="415.1" cy="52.5" r="0.9"/><circle cx="476.4" cy="61.3" r="0.8"/><circle cx="348.8" cy="87.7" r="0.7"/><circle cx="470.5" cy="104.2" r="1"/><circle cx="436.5" cy="24.7" r="0.6"/><circle cx="412.8" cy="65.8" r="0.6"/><circle cx="429.7" cy="129.5" r="0.9"/><circle cx="413.8" cy="24.1" r="1.1"/><circle cx="444.4" cy="135" r="1"/><circle cx="391.7" cy="69" r="0.5"/><circle cx="420.7" cy="118" r="0.6"/><circle cx="406.9" cy="62.6" r="0.8"/><circle cx="403.5" cy="43.7" r="0.6"/><circle cx="426" cy="69.8" r="0.7"/><circle cx="346.9" cy="15.1" r="0.5"/><circle cx="458.2" cy="25.2" r="0.9"/><circle cx="410.4" cy="49.3" r="0.6"/><circle cx="379.7" cy="74.1" r="0.8"/><circle cx="342.7" cy="36.5" r="1"/><circle cx="432.1" cy="110" r="1.1"/><circle cx="356.8" cy="98.2" r="0.8"/><circle cx="384" cy="94.2" r="1"/><circle cx="347.7" cy="48.2" r="1"/><circle cx="431.8" cy="16.9" r="0.6"/><circle cx="367.6" cy="25.9" r="1"/><circle cx="400.5" cy="58.3" r="1.1"/><circle cx="409" cy="49" r="1"/><circle cx="396.8" cy="17.4" r="0.6"/><circle cx="411.4" cy="35.6" r="0.9"/><circle cx="407.7" cy="93.7" r="1"/><circle cx="439.3" cy="76.5" r="1.1"/><circle cx="475.9" cy="91.4" r="0.7"/><circle cx="358.7" cy="87.8" r="0.5"/><circle cx="436.3" cy="90.5" r="0.7"/><circle cx="464.7" cy="138.1" r="0.9"/><circle cx="455.3" cy="21.3" r="0.7"/><circle cx="370" cy="24" r="0.9"/><circle cx="401.5" cy="37.2" r="0.5"/><circle cx="463.5" cy="126.5" r="0.7"/><circle cx="400.4" cy="50.9" r="0.9"/><circle cx="424.6" cy="101.1" r="1"/><circle cx="450.9" cy="107.1" r="0.8"/><circle cx="425" cy="63.3" r="0.5"/><circle cx="374.1" cy="75" r="0.9"/><circle cx="397.4" cy="50" r="0.9"/><circle cx="471.9" cy="105.2" r="0.5"/><circle cx="427.8" cy="76.2" r="0.7"/><circle cx="471.1" cy="92.7" r="0.9"/><circle cx="372" cy="86.1" r="0.8"/><circle cx="417" cy="73.1" r="1"/><circle cx="377.1" cy="116.3" r="1"/><circle cx="374.8" cy="97.4" r="0.8"/><circle cx="449.6" cy="99.4" r="0.9"/><circle cx="449.7" cy="122.8" r="0.6"/><circle cx="422.1" cy="27" r="0.9"/><circle cx="349.9" cy="38.6" r="0.9"/><circle cx="386.8" cy="111.9" r="0.6"/><circle cx="475.7" cy="91.3" r="0.7"/><circle cx="366" cy="36.7" r="0.7"/><circle cx="474.2" cy="133.2" r="0.8"/><circle cx="347.6" cy="21.6" r="1"/><circle cx="395.4" cy="111.7" r="0.6"/><circle cx="385.2" cy="36.1" r="0.7"/><circle cx="372.5" cy="116.9" r="0.8"/><circle cx="389.2" cy="133.5" r="0.7"/><circle cx="352.2" cy="89.2" r="0.7"/><circle cx="386.7" cy="17.2" r="0.6"/><circle cx="410.3" cy="45.1" r="0.5"/><circle cx="385.8" cy="69.8" r="1"/><circle cx="381.4" cy="56.8" r="0.7"/><circle cx="404.8" cy="29.6" r="0.8"/><circle cx="419.4" cy="71.6" r="0.5"/><circle cx="353.8" cy="22.9" r="0.6"/><circle cx="386.1" cy="77.3" r="1"/><circle cx="369.1" cy="21.2" r="0.5"/><circle cx="469" cy="98.8" r="0.9"/><circle cx="438.5" cy="91.9" r="1"/><circle cx="403.4" cy="62.7" r="0.8"/><circle cx="368.2" cy="10.9" r="0.5"/><circle cx="360.7" cy="49.8" r="0.6"/><circle cx="430.2" cy="27.9" r="0.5"/><circle cx="389.5" cy="92.9" r="0.9"/><circle cx="384" cy="82.7" r="0.5"/><circle cx="389.6" cy="46" r="0.5"/><circle cx="455.3" cy="70.7" r="0.9"/><circle cx="468.1" cy="96.2" r="0.9"/><circle cx="470.9" cy="104.3" r="0.8"/><circle cx="405.6" cy="9.2" r="0.7"/><circle cx="386.5" cy="29.7" r="1.1"/><circle cx="443.7" cy="145.1" r="0.6"/><circle cx="393.8" cy="108" r="0.6"/><circle cx="469.7" cy="142.7" r="0.6"/><circle cx="420.9" cy="91.9" r="1"/><circle cx="361.8" cy="10.3" r="0.8"/><circle cx="351.2" cy="69.4" r="0.7"/><circle cx="416.7" cy="104.5" r="0.6"/><circle cx="468.4" cy="42.5" r="0.6"/><circle cx="370.3" cy="62.3" r="0.8"/><circle cx="435.8" cy="14.7" r="0.7"/><circle cx="469.2" cy="78.4" r="0.7"/><circle cx="405" cy="62.3" r="0.9"/><circle cx="437.9" cy="20.8" r="0.6"/><circle cx="462.9" cy="118.2" r="1"/><circle cx="417.1" cy="52.8" r="0.7"/><circle cx="347.6" cy="57.9" r="0.6"/><circle cx="476.1" cy="16.8" r="0.7"/><circle cx="351.7" cy="90.9" r="0.7"/><circle cx="429.2" cy="73.6" r="0.6"/><circle cx="353.5" cy="91.7" r="0.5"/><circle cx="382" cy="43.4" r="0.6"/><circle cx="467.3" cy="79.2" r="0.8"/><circle cx="434.8" cy="92.2" r="0.6"/><circle cx="343" cy="37.2" r="0.9"/><circle cx="475.2" cy="48.9" r="0.5"/><circle cx="367.4" cy="23.8" r="0.8"/><circle cx="348.7" cy="28.7" r="0.9"/><circle cx="421" cy="73.1" r="0.5"/><circle cx="377" cy="22" r="0.9"/><circle cx="448.8" cy="114" r="0.7"/><circle cx="395.1" cy="93.9" r="0.8"/><circle cx="466.4" cy="112.3" r="1"/><circle cx="462.6" cy="120.6" r="0.8"/><circle cx="442" cy="148.9" r="0.8"/><circle cx="391.3" cy="132" r="0.9"/><circle cx="410.7" cy="48.9" r="1.1"/><circle cx="409.5" cy="95.3" r="0.6"/><circle cx="460.9" cy="65.5" r="1"/><circle cx="436.8" cy="113" r="1"/><circle cx="370.2" cy="85.4" r="0.8"/><circle cx="434.9" cy="137.8" r="0.9"/><circle cx="365.7" cy="38.7" r="0.8"/><circle cx="346.1" cy="34.9" r="0.5"/><circle cx="443.2" cy="13.9" r="0.5"/><circle cx="473.7" cy="17.6" r="0.5"/><circle cx="367.4" cy="73.9" r="0.8"/><circle cx="396" cy="107.9" r="1"/><circle cx="461.2" cy="126.1" r="0.9"/><circle cx="416.1" cy="133.9" r="1"/><circle cx="402.9" cy="16" r="0.6"/><circle cx="393.2" cy="31.1" r="0.9"/><circle cx="441" cy="9.3" r="0.9"/><circle cx="475.9" cy="96.8" r="0.9"/><circle cx="404.9" cy="62.2" r="0.9"/><circle cx="457.7" cy="18.8" r="1"/><circle cx="428.6" cy="111.1" r="0.7"/><circle cx="415.9" cy="87.2" r="0.9"/><circle cx="465.7" cy="92.8" r="0.6"/><circle cx="406.3" cy="107" r="1.1"/><circle cx="455.3" cy="142.9" r="0.7"/><circle cx="371.4" cy="20.6" r="0.7"/><circle cx="358.4" cy="97" r="0.7"/><circle cx="465.3" cy="114.5" r="0.8"/><circle cx="460.1" cy="79.5" r="0.7"/><circle cx="398.2" cy="121.2" r="1"/><circle cx="349.5" cy="20.7" r="0.8"/><circle cx="396.9" cy="92" r="0.8"/><circle cx="463.7" cy="147.5" r="0.7"/><circle cx="359.8" cy="64.4" r="1"/><circle cx="435.6" cy="135.1" r="0.6"/><circle cx="455.1" cy="112.8" r="0.5"/><circle cx="476.8" cy="124.8" r="0.7"/><circle cx="475.6" cy="104.7" r="0.6"/><circle cx="454.7" cy="147.5" r="0.5"/><circle cx="366.5" cy="39.2" r="0.8"/><circle cx="472.2" cy="41.7" r="1"/><circle cx="377.5" cy="88.5" r="0.8"/><circle cx="411.1" cy="145.5" r="1"/><circle cx="419.8" cy="143.2" r="0.8"/><circle cx="448.5" cy="89.2" r="0.6"/><circle cx="469.7" cy="145.7" r="0.6"/><circle cx="426.4" cy="132.5" r="0.7"/><circle cx="450.3" cy="102.1" r="0.6"/><circle cx="411.3" cy="127.9" r="0.5"/></g>
<g filter="url(#g07)"><circle cx="349.5" cy="110.2" r="3.7" fill="#d82027"/><circle cx="391.5" cy="174.9" r="4.8" fill="#861419"/><circle cx="342" cy="118.4" r="4.5" fill="#d12026"/><circle cx="366.7" cy="130.1" r="3.7" fill="#d32027"/><circle cx="309.3" cy="127.6" r="4.8" fill="#7c1217"/><circle cx="340" cy="142.6" r="4.8" fill="#b71c22"/><circle cx="348.8" cy="153.5" r="4.8" fill="#9d171c"/><circle cx="352.2" cy="125.4" r="4.3" fill="#e1232a"/><circle cx="253" cy="225.6" r="4.8" fill="#781117"/><circle cx="352.2" cy="193.6" r="4.8" fill="#9e191d"/><circle cx="255.1" cy="179.3" r="4.8" fill="#821318"/><circle cx="266.7" cy="223.7" r="4.8" fill="#831318"/><circle cx="339.6" cy="95.6" r="3.8" fill="#c41e24"/><circle cx="282.9" cy="149.6" r="4.8" fill="#b21920"/><circle cx="331.3" cy="200.4" r="4.8" fill="#c71e24"/><circle cx="408.7" cy="171.5" r="4.7" fill="#4f0c0f"/><circle cx="369.4" cy="163.3" r="4.8" fill="#e02229"/><circle cx="304.3" cy="159.4" r="4.8" fill="#b41a21"/><circle cx="288.2" cy="191.3" r="4.8" fill="#a0171d"/><circle cx="264.6" cy="157.7" r="4.8" fill="#98161c"/><circle cx="300.5" cy="136.3" r="4.8" fill="#94161c"/><circle cx="302.9" cy="193.3" r="4.8" fill="#c11c23"/><circle cx="322.5" cy="152.2" r="4.8" fill="#a3181e"/><circle cx="338.2" cy="182.3" r="4.8" fill="#9a181c"/><circle cx="329.4" cy="169.6" r="4.8" fill="#9f181d"/><circle cx="301" cy="170.4" r="4.8" fill="#b41b21"/><circle cx="365.2" cy="120.6" r="3.4" fill="#ba1c22"/><circle cx="247.1" cy="161.7" r="4.8" fill="#881419"/><circle cx="253.2" cy="192.4" r="4.8" fill="#af1920"/><circle cx="275.1" cy="174.1" r="4.8" fill="#9c171d"/><circle cx="286.4" cy="166.6" r="4.8" fill="#841318"/><circle cx="332.4" cy="108.9" r="4.7" fill="#a6191f"/><circle cx="377.3" cy="145.8" r="4.1" fill="#be1d23"/><circle cx="336.2" cy="70.2" r="3.5" fill="#cb1e24"/><circle cx="350.4" cy="136.9" r="4.8" fill="#a3181d"/><circle cx="365.8" cy="182.6" r="4.8" fill="#d42027"/><circle cx="382.1" cy="187.6" r="4.8" fill="#701016"/><circle cx="263.2" cy="211.8" r="4.8" fill="#811217"/><circle cx="296.7" cy="224.1" r="4.8" fill="#650f14"/><circle cx="332.3" cy="125.7" r="4.8" fill="#a7191e"/><circle cx="287" cy="210.9" r="4.8" fill="#841318"/><circle cx="340.6" cy="212" r="4.8" fill="#630f13"/><circle cx="401.1" cy="154.7" r="3.9" fill="#e7232a"/><circle cx="286.2" cy="180" r="4.8" fill="#a0181e"/><circle cx="356.1" cy="177.1" r="4.8" fill="#ac1a20"/><circle cx="337.5" cy="48.3" r="3.4" fill="#480b0e"/><circle cx="312.6" cy="140.8" r="4.8" fill="#cc1e25"/><circle cx="393.1" cy="149" r="3.7" fill="#c21d23"/><circle cx="268.7" cy="193.9" r="4.8" fill="#b61b22"/><circle cx="257.5" cy="143.6" r="4.8" fill="#580d11"/><circle cx="310.2" cy="212.1" r="4.8" fill="#95161b"/><circle cx="338.9" cy="59.3" r="3.4" fill="#821419"/><circle cx="390.6" cy="158.8" r="4.4" fill="#ba1c22"/><circle cx="277.1" cy="160.1" r="4.8" fill="#a1171e"/><circle cx="289" cy="131.7" r="4.8" fill="#470a0d"/><circle cx="359" cy="203.2" r="4.8" fill="#520c10"/><circle cx="321.3" cy="121.6" r="4.8" fill="#a6191e"/><circle cx="372.4" cy="196.5" r="4.8" fill="#4d0b0f"/><circle cx="313.9" cy="170.3" r="4.8" fill="#97161b"/><circle cx="359.7" cy="155.5" r="4.8" fill="#b51c21"/><circle cx="332" cy="81.7" r="4" fill="#9a171c"/><circle cx="243.2" cy="199" r="4.8" fill="#a4181e"/><circle cx="319.3" cy="192.1" r="4.8" fill="#96161b"/><circle cx="320.7" cy="204.8" r="4.8" fill="#be1c23"/><circle cx="374.9" cy="175.9" r="4.8" fill="#a6191e"/><circle cx="261.7" cy="169.6" r="4.8" fill="#861318"/><circle cx="337.7" cy="154.8" r="4.8" fill="#bb1d23"/><circle cx="387.4" cy="141.3" r="3.5" fill="#b51b21"/><circle cx="255.1" cy="203.6" r="4.8" fill="#891419"/><circle cx="298.4" cy="211.7" r="4.8" fill="#7f1217"/><circle cx="271.8" cy="137.7" r="4.8" fill="#460a0e"/><circle cx="280" cy="219.6" r="4.8" fill="#8e151b"/><circle cx="324.5" cy="136" r="4.7" fill="#d82027"/><circle cx="304.9" cy="180.8" r="4.7" fill="#c81d24"/><circle cx="382.3" cy="167.6" r="4.7" fill="#c41e24"/><circle cx="280.6" cy="200.8" r="4.7" fill="#891419"/><circle cx="244.4" cy="216.3" r="4.7" fill="#93151b"/><circle cx="329.1" cy="94.1" r="4.4" fill="#b01b20"/><circle cx="361.4" cy="142.2" r="4.5" fill="#be1d23"/><circle cx="320.8" cy="180.5" r="4.7" fill="#bd1c23"/><circle cx="378.7" cy="134.3" r="3.4" fill="#bf1d23"/><circle cx="345.4" cy="87.2" r="3.3" fill="#d12026"/><circle cx="276.2" cy="185.4" r="4.7" fill="#b11a21"/><circle cx="343.3" cy="200.2" r="4.7" fill="#ac1a1f"/><circle cx="352.1" cy="164.2" r="4.7" fill="#cc1f26"/><circle cx="405.9" cy="146.3" r="3.3" fill="#e6232a"/><circle cx="345" cy="172.9" r="4.7" fill="#ca1e25"/><circle cx="302.7" cy="147.9" r="4.7" fill="#8a1419"/><circle cx="321.7" cy="104.1" r="4.7" fill="#c51d25"/><circle cx="416.2" cy="163.4" r="4" fill="#8b151a"/><circle cx="265.4" cy="182.8" r="4.6" fill="#841318"/><circle cx="350.8" cy="97.6" r="3.3" fill="#a8191e"/><circle cx="243.3" cy="233.2" r="4.6" fill="#660f14"/><circle cx="243.8" cy="184.2" r="4.6" fill="#95151b"/><circle cx="293" cy="156.3" r="4.6" fill="#b71b21"/><circle cx="293.3" cy="201.2" r="4.6" fill="#b51a21"/><circle cx="379.1" cy="157" r="4.3" fill="#de2229"/><circle cx="410" cy="154.3" r="3.4" fill="#ba1c22"/><circle cx="327.3" cy="214.9" r="4.4" fill="#610e13"/><circle cx="245.1" cy="173.3" r="4.4" fill="#99161c"/><circle cx="329.4" cy="188.7" r="4.4" fill="#ad1a20"/><circle cx="340.8" cy="77.9" r="3.1" fill="#af1b21"/><circle cx="341.7" cy="104.7" r="3.6" fill="#dc2128"/><circle cx="292.5" cy="144.1" r="4.3" fill="#96161c"/><circle cx="399.9" cy="165.2" r="4.1" fill="#d92128"/><circle cx="274.1" cy="210.3" r="4.3" fill="#a7181f"/><circle cx="401.2" cy="179.4" r="4.2" fill="#500c0f"/><circle cx="342.7" cy="128.8" r="4.1" fill="#9e181d"/><circle cx="357.8" cy="114.2" r="3" fill="#dc2228"/><circle cx="244.1" cy="150.5" r="4.1" fill="#470a0e"/><circle cx="270.8" cy="149.1" r="4" fill="#a1181e"/><circle cx="362.6" cy="192.4" r="3.9" fill="#891519"/><circle cx="330.3" cy="62.5" r="3.1" fill="#c61e24"/><circle cx="371.1" cy="138.5" r="3.2" fill="#9d181d"/><circle cx="373.5" cy="125.9" r="2.7" fill="#a0181d"/><circle cx="311.5" cy="199.8" r="3.8" fill="#c71d24"/><circle cx="330.5" cy="145.9" r="3.8" fill="#a1181d"/><circle cx="368.2" cy="149.4" r="3.7" fill="#ab1a1f"/><circle cx="321.7" cy="162.8" r="3.7" fill="#b21a20"/><circle cx="398.7" cy="143" r="2.6" fill="#c41e24"/><circle cx="311.9" cy="151.3" r="3.7" fill="#98161c"/><circle cx="328.2" cy="72.9" r="3.1" fill="#c01d23"/><circle cx="337.8" cy="87.6" r="2.7" fill="#90161a"/><circle cx="311.1" cy="116.2" r="3.5" fill="#480b0e"/><circle cx="295.3" cy="184" r="3.5" fill="#c31d24"/><circle cx="349.7" cy="207.4" r="3.4" fill="#540c10"/><circle cx="338.3" cy="164.5" r="3.4" fill="#9b181d"/><circle cx="358.4" cy="132.3" r="3" fill="#a2191e"/><circle cx="276.3" cy="228.7" r="3.3" fill="#4e0c0f"/><circle cx="361" cy="167.9" r="3.3" fill="#b71c22"/><circle cx="254" cy="216" r="3.3" fill="#ad1920"/><circle cx="306.2" cy="221.2" r="3.2" fill="#520c10"/><circle cx="255.4" cy="153.2" r="3.2" fill="#721116"/><circle cx="392" cy="185.9" r="3.2" fill="#530c10"/><circle cx="260.8" cy="231.8" r="3.2" fill="#4f0c0f"/><circle cx="356.3" cy="106.7" r="2.2" fill="#ba1c22"/><circle cx="299.3" cy="125.2" r="3.2" fill="#620f13"/><circle cx="318" cy="217.9" r="3.1" fill="#630e13"/><circle cx="348.3" cy="184.6" r="3.1" fill="#c31d23"/><circle cx="302.8" cy="203" r="3.1" fill="#8d151a"/><circle cx="337.7" cy="192.9" r="2.9" fill="#cd1f26"/><circle cx="267.6" cy="203.5" r="2.9" fill="#8f141a"/><circle cx="310.8" cy="187.9" r="2.9" fill="#c51d24"/><circle cx="385.2" cy="150.3" r="2.5" fill="#d22026"/><circle cx="332.2" cy="55" r="2.2" fill="#560d11"/><circle cx="408.1" cy="161.6" r="2.5" fill="#a1181e"/><circle cx="281.5" cy="139.6" r="2.8" fill="#6e1015"/><circle cx="286.4" cy="227.1" r="2.8" fill="#640f14"/><circle cx="314.2" cy="159.9" r="2.7" fill="#be1c22"/><circle cx="324.5" cy="113.2" r="2.7" fill="#771216"/><circle cx="366.3" cy="173.5" r="2.6" fill="#cf1f26"/><circle cx="329.3" cy="160.2" r="2.6" fill="#a7191f"/><circle cx="246.7" cy="207.7" r="2.6" fill="#881419"/><circle cx="256" cy="162.8" r="2.5" fill="#a0171e"/><circle cx="350.5" cy="117.7" r="2" fill="#dc2128"/><circle cx="252.5" cy="169.5" r="2.4" fill="#a2171e"/><circle cx="294" cy="175.9" r="2.4" fill="#97161b"/><circle cx="357.8" cy="186" r="2.4" fill="#ab1a1f"/><circle cx="383.2" cy="178.9" r="2.3" fill="#ba1d22"/><circle cx="373.5" cy="186.9" r="2.3" fill="#861419"/><circle cx="353.4" cy="145.6" r="2.3" fill="#d32027"/><circle cx="269.6" cy="166" r="2.3" fill="#a91920"/><circle cx="334.3" cy="100.7" r="2" fill="#891419"/><circle cx="334.7" cy="135.6" r="2.2" fill="#df2128"/><circle cx="320.6" cy="143.6" r="2.2" fill="#d52027"/></g>
<path d="M338.5 47.5 A106.0 106.0 0 0 0 425 151.7" fill="none" stroke="#180406" stroke-width="3.2" filter="url(#g1)"/>
<ellipse cx="356" cy="198" rx="14" ry="8" fill="#c01c22" opacity="0.8" filter="url(#g4)"/>
</g>
<g clip-path="url(#cp3)">
<rect x="480" y="9" width="235.5" height="240.5" fill="#3c0a0d"/>
<ellipse cx="480" cy="60" rx="22" ry="70" fill="#4a0e11" opacity="1" filter="url(#g15)"/>
<path d="M480 175L540 150L600 130L660 115L716 110L716 260L480 260Z" fill="#5e0b0f" opacity="1" filter="url(#g15)"/>
<ellipse cx="520" cy="235" rx="50" ry="25" fill="#6a0c10" opacity="1" filter="url(#g12)"/>
<ellipse cx="714" cy="190" rx="22" ry="75" fill="#3c080b" opacity="1" filter="url(#g12)"/>
<ellipse cx="612" cy="215" rx="32" ry="38" fill="#740d12" opacity="1" filter="url(#g12)"/>
<ellipse cx="756" cy="33" rx="182" ry="93" fill="url(#cg3)"/>
<path d="M574.1 36 A182 93 0 0 0 650 108.6" fill="none" stroke="#2a0608" stroke-width="3.5" filter="url(#g2)"/>
<path d="M572.7 55 A188 99 0 0 0 640 110.9" fill="none" stroke="#220508" stroke-width="9" filter="url(#g3)"/>
<ellipse cx="588" cy="95" rx="16" ry="14" fill="#220508" opacity="1" filter="url(#g5)"/>
<ellipse cx="640" cy="124" rx="40" ry="8" fill="#7a1216" opacity="1" filter="url(#g4)"/>
<path d="M520 150L530 128L548 112L572 105L560 125L548 150L552 176L575 192L600 196L600 220L575 224L552 220L535 200L524 178Z" fill="#8a1317" opacity="0.8" filter="url(#g4)"/>
<ellipse cx="554" cy="121" rx="11" ry="9" fill="#b81a20" opacity="1" filter="url(#g3)"/>
<ellipse cx="534" cy="150" rx="8" ry="13" fill="#a0161c" opacity="1" filter="url(#g3)"/>
<ellipse cx="547" cy="182" rx="10" ry="9" fill="#a0161c" opacity="1" filter="url(#g3)"/>
<ellipse cx="570" cy="203" rx="14" ry="11" fill="#bc1b21" opacity="1" filter="url(#g3)"/>
<ellipse cx="602" cy="214" rx="20" ry="13" fill="#9c161b" opacity="1" filter="url(#g6)"/>
<g fill="#300509" opacity="0.55" filter="url(#g1)"><circle cx="523.8" cy="159.1" r="0.7"/><circle cx="575.3" cy="192" r="0.6"/><circle cx="584" cy="195.3" r="1.3"/><circle cx="576.2" cy="190.3" r="0.9"/><circle cx="526.8" cy="142.1" r="1.3"/><circle cx="534.9" cy="173.1" r="0.6"/><circle cx="569.8" cy="188.7" r="1"/><circle cx="559.7" cy="116.7" r="1.3"/><circle cx="567.4" cy="198" r="1.3"/><circle cx="584.2" cy="206.6" r="0.8"/><circle cx="539.3" cy="176.4" r="1.1"/><circle cx="530.7" cy="169.1" r="1.1"/><circle cx="546" cy="129.7" r="0.8"/><circle cx="535.9" cy="172" r="0.7"/><circle cx="553.6" cy="188.5" r="1.4"/><circle cx="528.4" cy="172.2" r="0.6"/><circle cx="529.9" cy="160.5" r="1.1"/><circle cx="567.2" cy="188" r="1.1"/><circle cx="595.6" cy="214.5" r="0.7"/><circle cx="550.5" cy="187.4" r="1"/><circle cx="534.7" cy="172.8" r="1.1"/><circle cx="553.6" cy="194.1" r="1"/><circle cx="547.8" cy="186.5" r="1.2"/><circle cx="537" cy="138.3" r="1.1"/><circle cx="590.1" cy="205.3" r="1"/><circle cx="532.7" cy="167.7" r="1.3"/><circle cx="576.2" cy="202.2" r="1.2"/><circle cx="556.6" cy="189.7" r="1.2"/><circle cx="529.3" cy="155.2" r="0.6"/><circle cx="537.9" cy="132.8" r="0.6"/><circle cx="537.7" cy="143" r="1.2"/><circle cx="526.5" cy="135.3" r="1.2"/><circle cx="554.5" cy="184.2" r="0.7"/><circle cx="540.3" cy="178.4" r="1"/><circle cx="570.4" cy="196.6" r="1.2"/><circle cx="528.7" cy="131" r="0.9"/><circle cx="529.4" cy="166.5" r="0.9"/><circle cx="570" cy="189.8" r="0.8"/><circle cx="583.9" cy="192.8" r="1"/><circle cx="561.7" cy="193.8" r="0.6"/><circle cx="549.9" cy="204.6" r="0.9"/><circle cx="521.3" cy="155.2" r="1"/><circle cx="547.5" cy="202.8" r="0.7"/><circle cx="555.8" cy="185.9" r="0.8"/><circle cx="564.3" cy="186.7" r="1"/><circle cx="526.3" cy="157.1" r="1.3"/><circle cx="569.4" cy="110.3" r="0.7"/><circle cx="522.6" cy="156.3" r="0.8"/><circle cx="535" cy="140.5" r="1"/><circle cx="567.8" cy="114.2" r="0.7"/><circle cx="549.7" cy="188.6" r="1"/><circle cx="531.9" cy="139.1" r="0.6"/><circle cx="538.7" cy="168.5" r="0.9"/><circle cx="543.4" cy="116.1" r="1.3"/><circle cx="544.7" cy="119.6" r="1.4"/><circle cx="563.7" cy="114.3" r="1.3"/><circle cx="562.1" cy="114.3" r="1.1"/><circle cx="534.7" cy="156.9" r="1.1"/><circle cx="537.7" cy="138.4" r="1.1"/><circle cx="540.2" cy="123.6" r="0.8"/><circle cx="524.1" cy="145" r="1.2"/><circle cx="543.8" cy="188.6" r="1.2"/><circle cx="529.4" cy="162" r="1.1"/><circle cx="532.7" cy="182.9" r="1.4"/><circle cx="529.8" cy="171.2" r="0.9"/><circle cx="567.4" cy="199" r="1"/><circle cx="571.1" cy="108.1" r="1.2"/><circle cx="567.9" cy="189.6" r="0.6"/><circle cx="538" cy="141.5" r="0.8"/><circle cx="550.4" cy="189" r="0.6"/><circle cx="556.6" cy="199.7" r="0.6"/><circle cx="535.5" cy="148.5" r="0.9"/><circle cx="527.7" cy="147.4" r="1"/><circle cx="544.5" cy="175.5" r="1.3"/><circle cx="573.5" cy="196.5" r="0.7"/><circle cx="524.7" cy="165.6" r="1.1"/><circle cx="556.8" cy="120.9" r="1.1"/><circle cx="549.7" cy="120.7" r="0.6"/><circle cx="543.6" cy="136.2" r="1.1"/><circle cx="564.7" cy="202.4" r="1"/><circle cx="577.6" cy="194.3" r="1.1"/><circle cx="531.7" cy="147.2" r="0.7"/><circle cx="533.1" cy="163.1" r="1.4"/><circle cx="523.9" cy="158.4" r="0.9"/><circle cx="550.7" cy="179.5" r="1.1"/><circle cx="562.1" cy="205.8" r="1.1"/><circle cx="560.5" cy="190.5" r="1.1"/><circle cx="545.8" cy="178.6" r="1.1"/><circle cx="548.3" cy="176.7" r="1.4"/><circle cx="531" cy="171.6" r="0.7"/><circle cx="534.4" cy="165.7" r="0.9"/><circle cx="564" cy="109.3" r="1.4"/><circle cx="523.8" cy="161.5" r="0.8"/><circle cx="522.9" cy="156" r="1.3"/><circle cx="559.9" cy="190.6" r="0.8"/><circle cx="543.3" cy="190.1" r="0.9"/><circle cx="588.4" cy="206.7" r="0.6"/><circle cx="538.3" cy="195.2" r="1.3"/><circle cx="543.4" cy="130" r="1"/><circle cx="553.5" cy="196.7" r="0.9"/><circle cx="571" cy="210.7" r="1.4"/><circle cx="557.1" cy="184.7" r="1.3"/><circle cx="529.3" cy="176.9" r="1.1"/><circle cx="535.3" cy="146.7" r="1.3"/><circle cx="592.1" cy="210" r="1.3"/><circle cx="539.2" cy="146" r="1.3"/><circle cx="560.6" cy="115" r="0.6"/><circle cx="536.6" cy="127.1" r="1.2"/><circle cx="547.6" cy="129.8" r="1.2"/><circle cx="542" cy="171.5" r="0.7"/><circle cx="539.6" cy="164.7" r="1.4"/><circle cx="598.6" cy="195.3" r="0.8"/><circle cx="570.5" cy="108.1" r="0.8"/><circle cx="530.2" cy="159.2" r="1.1"/><circle cx="532.2" cy="152.4" r="1.3"/><circle cx="582.1" cy="203.7" r="0.6"/><circle cx="587.9" cy="192.3" r="0.6"/><circle cx="548.6" cy="177.7" r="1.2"/><circle cx="591.3" cy="208.1" r="1"/><circle cx="537.9" cy="140.2" r="0.9"/><circle cx="585.1" cy="201.8" r="1.3"/><circle cx="547" cy="191.6" r="0.7"/><circle cx="525.5" cy="172.5" r="0.6"/><circle cx="570.1" cy="198.9" r="1.1"/><circle cx="533.4" cy="137.3" r="1"/><circle cx="528.3" cy="166.4" r="1"/><circle cx="549.9" cy="181.2" r="1.1"/><circle cx="531" cy="141" r="1.2"/><circle cx="538.9" cy="174.6" r="1"/><circle cx="596.3" cy="194.6" r="1.1"/><circle cx="542.7" cy="121" r="0.7"/><circle cx="557.5" cy="121.4" r="0.7"/><circle cx="548" cy="182.5" r="0.8"/><circle cx="529.2" cy="142.9" r="0.7"/><circle cx="566.7" cy="108.3" r="0.8"/><circle cx="532.6" cy="138.5" r="1.4"/><circle cx="538.3" cy="159.7" r="1.2"/><circle cx="547.9" cy="176.6" r="1.1"/><circle cx="533.3" cy="150.3" r="1.2"/><circle cx="570.9" cy="188.6" r="0.6"/><circle cx="537.7" cy="200.1" r="0.8"/><circle cx="568.8" cy="197.2" r="1.1"/><circle cx="538" cy="163.8" r="1.3"/><circle cx="552.1" cy="180.7" r="0.7"/><circle cx="601.4" cy="207.9" r="0.7"/><circle cx="562.4" cy="107.7" r="0.9"/><circle cx="588.5" cy="205" r="1.2"/><circle cx="560.9" cy="184.2" r="1.1"/><circle cx="564.8" cy="188.2" r="1.4"/><circle cx="544.6" cy="189.3" r="0.7"/><circle cx="586.9" cy="209.4" r="1.2"/><circle cx="519.3" cy="146.9" r="1"/><circle cx="566.8" cy="200.5" r="0.6"/><circle cx="541.7" cy="181.4" r="0.8"/><circle cx="577.4" cy="200.3" r="1.2"/><circle cx="572.2" cy="193.8" r="0.6"/><circle cx="568.3" cy="109.8" r="0.8"/><circle cx="529.9" cy="135.4" r="1.1"/><circle cx="531.4" cy="141.2" r="0.9"/><circle cx="588.7" cy="203.6" r="1.1"/><circle cx="558" cy="191.2" r="1.3"/><circle cx="537.2" cy="162.3" r="1.1"/><circle cx="585.2" cy="197.3" r="0.9"/><circle cx="520.4" cy="153.2" r="0.7"/><circle cx="539.6" cy="136.9" r="0.8"/><circle cx="549.1" cy="198.8" r="0.6"/><circle cx="535.5" cy="141.6" r="0.8"/><circle cx="555.5" cy="108.3" r="1.2"/><circle cx="538.2" cy="201.2" r="1.2"/><circle cx="542.1" cy="181.2" r="1.3"/><circle cx="552.3" cy="110.4" r="1.1"/><circle cx="523.6" cy="149.2" r="1.1"/><circle cx="551.6" cy="110.2" r="1.3"/><circle cx="581.8" cy="195.8" r="0.8"/><circle cx="531.1" cy="149.7" r="1.2"/><circle cx="563.1" cy="206.7" r="1.3"/><circle cx="573.1" cy="194" r="1.2"/><circle cx="537.9" cy="141.8" r="1.2"/><circle cx="576.2" cy="194.2" r="0.6"/><circle cx="538.2" cy="166.6" r="1"/><circle cx="554.3" cy="182.3" r="1.4"/><circle cx="535.2" cy="131.2" r="0.9"/><circle cx="552.9" cy="194" r="1.4"/><circle cx="597.7" cy="193.7" r="1.1"/><circle cx="590.1" cy="200.6" r="1.4"/><circle cx="566" cy="107.7" r="0.7"/><circle cx="543.9" cy="129" r="0.7"/><circle cx="565.2" cy="205.9" r="1.2"/><circle cx="545.7" cy="182.7" r="0.9"/><circle cx="540.7" cy="176.2" r="0.6"/><circle cx="583.9" cy="196.4" r="1.1"/><circle cx="565" cy="110.9" r="1.3"/><circle cx="526.7" cy="142.4" r="1.2"/><circle cx="541.1" cy="121.2" r="1.4"/><circle cx="536.4" cy="181.5" r="0.9"/><circle cx="537" cy="179.1" r="1.2"/><circle cx="540" cy="136" r="0.9"/><circle cx="534.7" cy="181.1" r="1.4"/><circle cx="545" cy="180.9" r="1.2"/><circle cx="585" cy="198.8" r="0.9"/><circle cx="556.1" cy="190.6" r="1.3"/><circle cx="580.8" cy="192.4" r="0.9"/><circle cx="558.8" cy="110.5" r="1"/><circle cx="580.3" cy="197.4" r="1.2"/><circle cx="576.2" cy="210.5" r="1.2"/><circle cx="540.7" cy="116.6" r="1.2"/><circle cx="528.1" cy="152.1" r="1"/><circle cx="594.2" cy="204.5" r="0.9"/><circle cx="542.6" cy="130.3" r="1"/><circle cx="579.7" cy="191.9" r="0.8"/><circle cx="529.4" cy="155.5" r="1.4"/><circle cx="597.6" cy="199.6" r="1.3"/><circle cx="534.6" cy="177.1" r="0.6"/><circle cx="561.2" cy="190.7" r="0.6"/><circle cx="528.9" cy="153.9" r="1"/><circle cx="525.7" cy="178.6" r="1"/><circle cx="520.2" cy="160.4" r="0.9"/><circle cx="560.7" cy="116.4" r="0.8"/><circle cx="565.8" cy="114.1" r="0.7"/><circle cx="559.7" cy="194.8" r="0.8"/><circle cx="535.6" cy="151.7" r="1.3"/><circle cx="549.9" cy="186.1" r="1"/><circle cx="545.5" cy="196.1" r="1.4"/><circle cx="540.1" cy="170.3" r="1.2"/><circle cx="530" cy="135.1" r="0.7"/><circle cx="540.2" cy="175.8" r="1"/><circle cx="534.9" cy="158.3" r="0.6"/><circle cx="553.5" cy="119.2" r="0.9"/><circle cx="530.4" cy="142.3" r="1"/><circle cx="548.5" cy="189.8" r="0.7"/><circle cx="521.3" cy="150" r="0.9"/><circle cx="551.5" cy="109.5" r="0.6"/><circle cx="536.4" cy="129.6" r="0.7"/><circle cx="592.5" cy="201.8" r="1.3"/><circle cx="545.1" cy="112.8" r="1.4"/><circle cx="559.6" cy="195.4" r="1.2"/><circle cx="592.8" cy="194.7" r="0.9"/><circle cx="534.4" cy="190.9" r="1.1"/><circle cx="543.4" cy="196.1" r="1.2"/><circle cx="535.4" cy="170.4" r="0.9"/><circle cx="535.6" cy="197.5" r="1.2"/><circle cx="570.9" cy="109.7" r="1.2"/><circle cx="550.7" cy="202" r="1.3"/><circle cx="534.8" cy="132.2" r="1.3"/><circle cx="591.7" cy="196.9" r="1.2"/><circle cx="595.9" cy="198.5" r="1.2"/><circle cx="580" cy="202.6" r="0.8"/><circle cx="556.3" cy="190.4" r="1.3"/><circle cx="568.8" cy="112.7" r="1"/><circle cx="535.4" cy="166.8" r="0.7"/><circle cx="590.6" cy="203.5" r="0.8"/><circle cx="591.2" cy="201" r="1.2"/><circle cx="538.2" cy="161.6" r="1.3"/><circle cx="592.7" cy="198.1" r="1.2"/><circle cx="527.9" cy="171.4" r="1.4"/><circle cx="538.1" cy="139" r="0.7"/><circle cx="590.1" cy="202.3" r="1.2"/><circle cx="533.9" cy="136.9" r="0.8"/><circle cx="564.1" cy="207" r="1.4"/><circle cx="539.1" cy="178.1" r="0.9"/><circle cx="523.9" cy="180.1" r="0.9"/><circle cx="591.6" cy="197" r="0.7"/><circle cx="565.9" cy="192.1" r="1.3"/><circle cx="587.9" cy="196.8" r="1.3"/><circle cx="525.5" cy="154.2" r="1.1"/><circle cx="550.6" cy="116.9" r="1.1"/><circle cx="523.6" cy="163.9" r="0.6"/><circle cx="527.5" cy="140.9" r="1"/><circle cx="521.1" cy="147.4" r="0.7"/><circle cx="569.5" cy="201.6" r="1.3"/><circle cx="552.1" cy="185.7" r="0.7"/><circle cx="539.3" cy="173.6" r="1"/><circle cx="531" cy="182.4" r="1"/><circle cx="545.6" cy="129.5" r="1.4"/><circle cx="535.2" cy="161.3" r="0.7"/><circle cx="600.4" cy="195.1" r="0.7"/><circle cx="553.2" cy="120.9" r="1.3"/><circle cx="543.4" cy="196.1" r="1.2"/><circle cx="584" cy="203.1" r="0.7"/><circle cx="573.1" cy="201" r="1"/><circle cx="524.1" cy="171.9" r="1.3"/><circle cx="563.7" cy="186.4" r="1.3"/><circle cx="544.5" cy="181.8" r="0.7"/><circle cx="550.4" cy="183.2" r="1.3"/><circle cx="540.8" cy="133.5" r="0.6"/><circle cx="542.1" cy="122.8" r="1.2"/><circle cx="549.8" cy="181.2" r="1.1"/><circle cx="542.7" cy="122.3" r="1"/><circle cx="589.5" cy="197.3" r="0.9"/><circle cx="538.3" cy="130.9" r="0.7"/><circle cx="569.6" cy="188.6" r="0.8"/><circle cx="569.7" cy="111.1" r="1.1"/><circle cx="546.6" cy="194.7" r="1"/><circle cx="574.4" cy="193.7" r="0.8"/><circle cx="562.5" cy="186.4" r="0.9"/><circle cx="524" cy="145.3" r="1.1"/><circle cx="561.6" cy="115.9" r="0.6"/><circle cx="561.4" cy="196.1" r="0.7"/><circle cx="549.6" cy="183.9" r="1"/><circle cx="562.1" cy="195.2" r="0.9"/><circle cx="551" cy="122.9" r="0.8"/><circle cx="547.1" cy="176.2" r="0.9"/><circle cx="549.6" cy="187.3" r="0.8"/><circle cx="533.9" cy="173.4" r="0.8"/><circle cx="588.3" cy="194.1" r="0.6"/><circle cx="598.8" cy="204.8" r="0.7"/><circle cx="578.7" cy="205.4" r="0.6"/><circle cx="565.1" cy="117" r="0.9"/><circle cx="553" cy="123.3" r="1.1"/><circle cx="552.4" cy="113.7" r="1.3"/><circle cx="544.7" cy="204.2" r="1.1"/><circle cx="522.6" cy="178.8" r="1"/><circle cx="549.6" cy="113.5" r="1.4"/><circle cx="570.6" cy="105.9" r="1.1"/><circle cx="550.7" cy="190.7" r="1.3"/><circle cx="567.8" cy="196.6" r="1"/><circle cx="538.3" cy="162.5" r="1.1"/><circle cx="538.7" cy="131" r="0.9"/><circle cx="600.2" cy="204" r="0.6"/><circle cx="556.5" cy="189.6" r="1"/><circle cx="531.4" cy="136.2" r="1.2"/><circle cx="537.3" cy="185.1" r="1.4"/><circle cx="537" cy="145.2" r="1.1"/><circle cx="544.2" cy="126.7" r="1.4"/><circle cx="588.6" cy="193.8" r="0.8"/><circle cx="555.7" cy="189" r="1.4"/><circle cx="582.7" cy="199.7" r="1.3"/><circle cx="559.5" cy="196.1" r="0.9"/><circle cx="568.9" cy="106.2" r="1.2"/><circle cx="537.1" cy="151.4" r="1.2"/><circle cx="557.7" cy="210.1" r="1.3"/><circle cx="559.2" cy="194.5" r="0.9"/><circle cx="536.4" cy="149.3" r="1.3"/><circle cx="557.7" cy="109.3" r="1"/><circle cx="550.9" cy="119.8" r="0.7"/><circle cx="551.1" cy="127.8" r="0.9"/><circle cx="550.9" cy="180.2" r="1.3"/><circle cx="536.5" cy="166.7" r="1.1"/><circle cx="553.6" cy="193" r="0.8"/><circle cx="541.3" cy="129.3" r="0.8"/><circle cx="537" cy="121.8" r="0.7"/><circle cx="537.4" cy="186.1" r="1"/><circle cx="567.2" cy="201.7" r="1.4"/><circle cx="530.3" cy="162.6" r="1.1"/><circle cx="541.6" cy="180.9" r="1.1"/><circle cx="528.9" cy="187.7" r="0.7"/><circle cx="576.9" cy="192" r="0.7"/><circle cx="541.6" cy="133" r="0.8"/><circle cx="565" cy="209" r="0.8"/><circle cx="591.9" cy="196.9" r="0.9"/><circle cx="561.5" cy="198.7" r="1.3"/><circle cx="553.4" cy="120.4" r="0.6"/><circle cx="556.4" cy="198.7" r="0.6"/><circle cx="567" cy="111.9" r="1.3"/><circle cx="531.2" cy="148.6" r="0.6"/><circle cx="561.2" cy="184.4" r="1"/><circle cx="551" cy="112.3" r="1"/><circle cx="554.5" cy="205.8" r="0.8"/><circle cx="555.1" cy="118.7" r="1"/><circle cx="532" cy="144.9" r="1"/><circle cx="536.1" cy="173.8" r="0.8"/><circle cx="563.5" cy="211.6" r="0.7"/><circle cx="522" cy="146.5" r="1.1"/><circle cx="537.5" cy="181.5" r="0.6"/><circle cx="533.2" cy="129.9" r="0.9"/><circle cx="566" cy="198.7" r="1.3"/><circle cx="559.6" cy="110.4" r="0.7"/><circle cx="553.7" cy="111.4" r="0.7"/><circle cx="539.7" cy="137.7" r="1"/><circle cx="592.4" cy="199.5" r="1.1"/><circle cx="545.2" cy="173" r="1"/><circle cx="590.3" cy="201.8" r="1.4"/><circle cx="539.4" cy="146.5" r="1.3"/><circle cx="553.8" cy="118.8" r="0.6"/><circle cx="537.4" cy="150.7" r="0.8"/><circle cx="563.6" cy="107.3" r="1"/><circle cx="598" cy="193.8" r="0.7"/><circle cx="548.1" cy="127.4" r="0.7"/><circle cx="563.4" cy="190.2" r="0.8"/><circle cx="532.2" cy="158.5" r="1.3"/><circle cx="540.2" cy="141.3" r="0.7"/><circle cx="544.2" cy="177.6" r="1.2"/><circle cx="560.1" cy="109.6" r="0.8"/><circle cx="581.6" cy="194.7" r="1.3"/><circle cx="526.8" cy="152.8" r="0.9"/><circle cx="550.9" cy="183.7" r="1"/><circle cx="540.2" cy="189.2" r="1.1"/><circle cx="531.7" cy="180.1" r="1.2"/><circle cx="541.6" cy="130.1" r="0.9"/><circle cx="536.6" cy="161.8" r="0.8"/><circle cx="572.1" cy="201.5" r="1.3"/><circle cx="531.8" cy="144.2" r="1.3"/><circle cx="547.4" cy="177.9" r="1.4"/><circle cx="564.7" cy="188.6" r="1.1"/><circle cx="580.2" cy="206.5" r="1"/><circle cx="528.2" cy="153" r="1"/><circle cx="555" cy="185.2" r="0.8"/><circle cx="544.7" cy="118" r="1"/><circle cx="544.5" cy="178.9" r="1.3"/><circle cx="544.1" cy="176.7" r="1.2"/><circle cx="532.1" cy="163.1" r="1.3"/><circle cx="563.9" cy="191.5" r="0.9"/><circle cx="559.5" cy="197.8" r="0.6"/><circle cx="547" cy="182.2" r="1.4"/><circle cx="565.8" cy="115.4" r="0.8"/><circle cx="536" cy="181.2" r="1"/><circle cx="557.8" cy="118.9" r="0.7"/><circle cx="551.7" cy="117.2" r="1.3"/><circle cx="572.2" cy="106.2" r="0.9"/><circle cx="533.7" cy="184.7" r="1.1"/><circle cx="562.6" cy="196" r="1.3"/><circle cx="539" cy="147.4" r="1"/><circle cx="552.4" cy="126" r="0.6"/><circle cx="547.4" cy="193.5" r="1.1"/><circle cx="569.4" cy="192.6" r="1.2"/><circle cx="527.4" cy="147.2" r="0.9"/><circle cx="558" cy="187.9" r="0.9"/><circle cx="577" cy="202.1" r="1.3"/><circle cx="568.1" cy="114.8" r="0.8"/><circle cx="562.2" cy="192.3" r="1.2"/><circle cx="541.1" cy="177.9" r="1.2"/><circle cx="561.7" cy="192.1" r="0.7"/><circle cx="547.2" cy="130.8" r="0.8"/><circle cx="572.7" cy="203.4" r="1.3"/><circle cx="545.6" cy="128.1" r="1.3"/><circle cx="553.6" cy="114.1" r="1.2"/><circle cx="536.7" cy="141.3" r="0.9"/><circle cx="563.6" cy="194.7" r="0.9"/><circle cx="537" cy="131.5" r="1.1"/><circle cx="527.5" cy="135.2" r="1.1"/></g>
<path d="M577 110L600 106L625 108L648 114L672 119L694 126L699 138L690 148L670 156L650 164L628 175L608 184L590 189L572 188L555 180L543 168L538 152L545 136L558 122Z" fill="url(#nf3)" filter="url(#g2)"/>
<g filter="url(#g09)"><path d="M654.3 128.5L657.2 129L658.6 132.2L657.1 134.4L653.4 134L651.9 131.3Z" fill="#871419"/><path d="M647.9 148.4L646.9 150.9L642.9 152.5L640.7 150.9L640.2 147.5L642.7 144.2L646.7 144.8Z" fill="#ad1b20"/><path d="M599 168.7L594.3 173.3L588.2 172.4L585.5 167.7L590.3 161.3L596.3 163.2Z" fill="#ca1f25"/><path d="M640.1 118L642.2 117.1L645.8 119.1L645.7 120.8L644.7 124.4L643 124.9L640.8 124.8L638.1 122L638.2 120Z" fill="#b21b22"/><path d="M668.7 144L670.4 144.8L671.1 147.2L670.2 149.2L667.6 150.1L666.3 149.2L665.1 147.2L665.6 145.2L666.3 144.5Z" fill="#8b151b"/><path d="M551.1 145.4L552 149L550.8 151.6L545.9 152L544.1 149.7L544.1 145.4L547.9 143.8Z" fill="#d32027"/><path d="M678 157.2L677 156.1L676.3 154.9L677.8 152.7L679.4 152.2L680.4 153L681.4 154.8L680.4 156.4Z" fill="#791217"/><path d="M567.9 134.7L567.7 138.3L563.9 140.2L561.5 139.2L560.2 134.4L561.5 132.1L566 131.8Z" fill="#b01b20"/><path d="M614.7 163.4L617.3 164.8L618.5 169.8L616.1 171.9L612.2 172L608.9 167.8L610.5 164.2Z" fill="#e02329"/><path d="M630.5 125.4L632.8 124.3L635.8 126L636.5 128.5L635.9 130.5L633.7 131.4L630.2 130.4L629.7 128.2Z" fill="#b41b21"/><path d="M608.8 122.4L611.8 124.5L612.9 130L609.7 132.4L604.3 130.4L604 126.4Z" fill="#dc2228"/><path d="M572.9 186.9L568.7 186.8L566.1 184.8L565.6 182.3L567.3 178.1L569.8 177.8L574.5 179.1L575.6 180.8L575.4 184.2Z" fill="#dc2229"/><path d="M625.8 161.5L622.9 162.6L620.5 161L619.7 158.6L619.8 156.4L622 154.8L625 154.6L627.3 156.8L627.1 159.7Z" fill="#ae1b20"/><path d="M574.3 128.5L570.7 129.2L569 126.9L567.8 123L569.4 120.6L573.8 119.9L576.3 122.2L577 124.6Z" fill="#bd1d23"/><path d="M566.8 160.2L566.8 158.1L568 154.4L571 153.5L573.6 154.4L575 158L573.7 161.4L570.3 162.4Z" fill="#e6232a"/><path d="M688.6 130L690.5 130.7L691.7 133L690.2 135.9L689 136.5L686.4 135.4L685.5 133.1L686.7 130.1Z" fill="#6d1015"/><path d="M595.3 124.1L589.9 125L587.5 123L586.2 119.5L589.8 114L593.2 113.7L596.6 116.4L598.1 121.4Z" fill="#bf1d23"/><path d="M608.8 146.7L614.3 149.6L614.5 155L611.7 158.5L605.6 157.7L603.7 154.8L604.5 148.9Z" fill="#df2229"/><path d="M634.8 140.5L634.6 145.2L631.9 147.4L626.6 147.4L624.4 143.1L627.7 137.5L632.5 137.8Z" fill="#b01b21"/><path d="M607.6 107.1L608.5 102.8L612 99.9L617.3 101L618.5 104.1L618.9 108.3L615.5 111.4L610.8 110.7Z" fill="#dc2228"/><path d="M633.5 168.2L634.7 170.2L634.9 173.2L632.3 175.2L629.8 174.6L627.8 172.7L628.3 169.8L630.5 167.7Z" fill="#bb1c23"/><path d="M660.3 149.9L661.3 151.4L661.4 152.6L660.6 154.1L658.5 154.6L656.9 154L656.4 152.7L657.1 150.3L658.5 149.9Z" fill="#851419"/><path d="M636.4 113.4L634.7 115.6L632.1 116.3L628.9 115L628.2 110.7L630.4 108.6L633 108.2L636.5 110.2Z" fill="#b91d22"/><path d="M577.2 150.5L578.2 148L580.8 146.8L582.8 146.8L585 149.2L584.9 152.2L583.4 154.5L581 154.9L577.6 153.5Z" fill="#cd2026"/><path d="M657.2 144.7L654.3 143.7L653 141L655.1 138.6L657.3 138.3L659.5 140.3L659.2 142.8Z" fill="#91161b"/><path d="M679.9 141.2L679.8 145.7L677.7 146.6L674.8 145.6L674.1 141.5L677.3 140.5Z" fill="#6b1015"/><path d="M606.1 185.5L604.9 187.8L601.9 190.1L598.9 190.6L595.8 188L595.8 184.8L597.6 181.3L600.9 180.5L604.6 182Z" fill="#bc1c23"/><path d="M538.3 166.8L541.7 164.6L546.3 165.1L547.7 170.1L545.1 174.1L540.3 173.4L538.3 170.5Z" fill="#8b1419"/><path d="M690.7 145.3L689.6 144.6L689.2 142.5L689.8 141.5L691 141.2L692.5 141.2L693.3 142.6L692.9 144.3L691.9 145.2Z" fill="#721116"/><path d="M579.8 133.4L578.1 130.5L580.6 125.5L586.2 124.8L588.4 127.2L588.6 132.5L585.6 134.8Z" fill="#c61e24"/><path d="M563.1 155.1L559.4 156.4L555.5 152.5L556.1 147L563 145.9L565.8 148.7Z" fill="#de2229"/><path d="M564.8 175.6L560.3 173.3L559.3 168.7L563.3 165.3L568.5 167.4L569.3 172.3Z" fill="#d02026"/><path d="M598.6 148.3L595.5 150.5L590.5 149.8L588.8 144.9L591.2 139.6L596 139.4L599.2 143.7Z" fill="#d12026"/><path d="M655.6 122L657.8 121L659.4 121.5L660.5 123.5L659.8 125.5L657.4 126.4L655.2 124.3Z" fill="#8c151b"/><path d="M612.7 141.2L613.1 137.4L617.4 135.1L621.2 138.5L620.4 142.7L616 144.3Z" fill="#b51c22"/><path d="M678.9 131.2L677.3 130.4L676.9 127.5L678.9 126L681.4 127.3L681.8 129.9Z" fill="#751117"/><path d="M672.7 127.2L671.1 128.6L669.3 128.8L667.8 127.4L667.9 125.8L668.9 124.4L670.4 124L672.5 125.5Z" fill="#801318"/><path d="M643.3 163.7L638.3 162.9L636.2 160.9L637 157L640.9 153.9L644.8 155.3L645.9 158L645.7 161.6Z" fill="#90161b"/><path d="M701.7 138.1L700.2 140L698.2 140.8L695.7 138.8L695.6 136.7L697.2 134.7L699.4 134.8L701 135.9Z" fill="#6f1015"/><path d="M655.9 161.1L655.9 163.6L655.1 164.7L652.8 165.3L651.2 164.5L650.3 163.3L650.3 161L651.9 159.8L654.1 159.6Z" fill="#831319"/><path d="M581.9 112.8L578.5 107.9L582.4 102.6L586.3 102.2L590.1 108L587.9 111.9Z" fill="#dc2228"/><path d="M654 117.5L654.1 120.4L652.3 121.9L650.5 121.5L649.3 119.7L650.1 117.3L651.9 116.1Z" fill="#a81a1f"/><path d="M621.8 117.3L624.6 118.9L625.5 122.3L624.6 125.2L621.4 127.2L616.6 125.7L615.1 122.5L616.5 119.4L618.3 117.8Z" fill="#df232a"/><path d="M539.1 154.2L535.4 154.8L531.6 150.8L532.9 147.9L537.2 145.8L540.7 147.7L540.7 151.6Z" fill="#ac1920"/><path d="M597.1 109.3L598.6 104.7L602 103.7L605 104.6L606.1 109.6L603.3 111.6L600 111.9Z" fill="#d42127"/><path d="M646.2 135.8L644.1 136.3L641.9 134.6L641.1 132.5L642.5 130.2L644.9 129.2L647 130.3L648.2 132.7Z" fill="#8c161a"/><path d="M573.3 116.7L570 118.2L565.3 116.5L564.8 111.9L568.1 108.1L571.9 108.6L574.9 112.8Z" fill="#9b171d"/><path d="M590.7 186.9L589.9 190.9L585.3 193.1L581.1 191.3L580 188.4L581.8 184.2L586.6 182.5L589.7 184Z" fill="#a8191f"/><path d="M603.3 132.1L605.1 134.4L605.3 137.4L603.4 139.8L599.9 139.5L598.1 137.8L598.3 134.4L600.3 132.2Z" fill="#b11b20"/><path d="M620.3 172.8L623.4 174.7L623.6 179.9L621.6 181.2L616.5 180.2L615 176.8L617.4 173.2Z" fill="#af1a20"/><path d="M540 138.9L538 134.8L540.2 129.5L545.3 128.6L548.6 133.5L544.9 139.4Z" fill="#841318"/><path d="M669.5 155.9L671.1 156.4L672 158.9L670.7 160.7L668.2 160.7L667.1 159.5L667.4 157.2Z" fill="#7a1217"/><path d="M671.2 138.4L668.9 138L668.2 136.6L668.8 134.4L670.6 134L672 135L672.3 136.9Z" fill="#6a1014"/><path d="M555.2 126L554.4 123.2L557 120.9L561.3 121.4L562.4 123.3L561.7 127.4L558.4 128.1Z" fill="#b61c22"/><path d="M676.1 149.7L676.1 150.8L674.7 152.3L673 152.5L672.1 151.4L671.8 149.7L672.7 148.4L674.9 148.1Z" fill="#680f14"/><path d="M558.1 178.9L555.1 180.6L551.7 178.6L551.5 176.2L552 173.5L555 172.7L557.9 173.4L559.4 177.2Z" fill="#cf2026"/><path d="M572.5 141L574.6 144.3L574.8 146.7L571.6 149.1L568.5 147.7L567.1 145.7L567.2 142.9L569.5 141Z" fill="#d82128"/><path d="M699.8 131.5L698.1 132.8L697.1 132.7L695.6 131.3L695.5 130L696.6 128.7L698.1 128.4L699.5 129.1L699.9 130.7Z" fill="#721116"/><path d="M683.1 149.1L685.2 148.6L686.8 150L686.3 152.3L684.6 152.7L682.6 151.1Z" fill="#751117"/><path d="M650.1 142.7L648.8 143.2L646.3 143L645.8 141.9L645.1 140L646.6 138L648.9 137.8L650.7 139.1L651 140Z" fill="#a5191f"/><path d="M542 156.4L544.3 154.9L547.2 154.8L549.2 157.4L549.1 159.5L547 162.1L545.5 162.7L542.2 160.7L541.1 158.3Z" fill="#b21b21"/><path d="M682.9 140L684.2 138.9L686 139.4L686.8 140.5L686.5 142.3L685.4 143.1L683.5 142.9L682.6 142.2Z" fill="#6d1015"/><path d="M577 159.7L579.2 157.7L583.4 158.4L584.8 161.4L583.9 163.5L579.6 165.4L576.9 162.7Z" fill="#c01e23"/><path d="M578.2 172L580.9 170.4L583.2 170.4L585.3 172.8L585.3 175.3L583.5 177.8L582 178.3L579.2 177.1L577.9 174.9Z" fill="#d92128"/><path d="M602.6 118L603.5 114.6L605.7 112.9L609.4 114.5L610.1 117.6L609 119.8L605.6 120.4Z" fill="#c61e24"/><path d="M625 135.6L620.8 133.6L620.8 129.8L623.5 127.8L627.3 129.5L627.6 133.2Z" fill="#b01b21"/><path d="M677.9 137.3L677.3 135.1L678.6 133.6L680.9 134.2L681.4 135.4L680.1 137.7Z" fill="#660f14"/><path d="M666.4 132.1L665.4 133.6L662.8 133.6L661.7 132.7L661.9 130.2L663.4 129.1L665.3 129.9Z" fill="#7b1318"/><path d="M550.7 137.4L552.6 134.1L555 133.3L558.3 135.3L558.4 139.3L555.9 141L552.4 140.2Z" fill="#e7242a"/><path d="M607.7 171.5L606.9 174.7L604.7 176.2L602.3 176.5L600.6 175L599.6 171.2L600.8 169.4L603.5 168.8L606.6 169.9Z" fill="#e7242a"/><path d="M641.5 168.4L642.6 166.4L644.3 166L646.1 166.4L647.2 167.6L647.1 170.6L646 171.8L642.9 171.7L642.2 170.9Z" fill="#9b181d"/><path d="M647.5 153L649.4 152L651.3 152.2L652.4 154.3L652.7 156L650.1 157.8L648.4 157.2L647.3 155.3Z" fill="#9b171d"/><path d="M663.8 135.9L665.3 135.8L666.6 137.5L666.4 138.9L665.6 140.2L663.6 140.3L662.5 139.7L662.1 138.2L662.4 136.7Z" fill="#811419"/><path d="M558.7 158L561.5 161.1L560 164.8L556.2 165.5L553.3 162.1L554.7 158.7Z" fill="#e7242a"/><path d="M657.5 159.9L657.6 158.3L659.2 156.8L660.9 157.1L661.8 157.8L661.9 159.9L661 161.2L658.7 161.2Z" fill="#8e161b"/><path d="M628.4 155.4L629.5 152.3L633.3 150.9L635.3 152.9L634.7 156.8L631.9 157.9Z" fill="#b51c21"/><path d="M600.8 157.6L598.5 159.9L595.1 159.8L593.9 157.5L594.3 154.5L596 152.6L598.9 152.9L601 155.7Z" fill="#b01b20"/><path d="M663 121.8L664.1 120.2L666.4 120.1L667.3 122.5L666.3 123.8L663.5 123.7Z" fill="#8a141b"/><path d="M626.1 110.6L626.1 113.1L623.7 115.5L620.6 114.9L618.9 112.6L619.6 110.6L622 108.5L624.4 108.8Z" fill="#b81c22"/><path d="M579.6 115.1L582 115.5L584.3 117.7L583.8 121L580.1 122.6L577 120.2L577.1 117.6Z" fill="#db2228"/><path d="M612.1 186.4L609 185.9L607.7 182.9L608.7 179.7L611.4 178.7L614.2 181.1L614.7 183.4Z" fill="#8a1419"/><path d="M579.9 140.2L581.1 138.6L584.9 138.2L586.5 139.6L587.3 142.2L584.6 145L581.9 145.3L580.2 143.8Z" fill="#c11e23"/><path d="M620 153.7L616.6 151.8L617.2 147.8L620.7 146.4L623.3 148L623.3 152.5Z" fill="#c71f25"/><path d="M650.1 148.5L649.9 146.6L652 145L654.8 146.4L654.5 149.3L652.2 150.2Z" fill="#a81a20"/><path d="M630.9 166.1L628.7 163.9L629.4 160.2L632.2 159.9L634.5 161.9L633.7 165.2Z" fill="#cc1f26"/><path d="M603.1 159.6L605.7 161.4L606.6 164.6L603.4 167L600.9 166.2L599.5 163.7L600.9 160.4Z" fill="#c81f25"/><path d="M563 181.4L563.8 184.8L562 187.1L559.6 187.8L557.4 185.3L557.9 182.4L560.2 180.6Z" fill="#9d171d"/><path d="M570.1 135.5L572.1 133.2L575.9 133.4L577 137.2L574.9 139.2L570.9 138.6Z" fill="#bb1d22"/><path d="M693.6 150.6L692.5 151.1L691 150.8L690.1 150L690.3 148.7L691.1 147.6L693 147.7L693.7 148.9Z" fill="#640f13"/><path d="M572.1 169.5L570.1 166.9L572.5 163.4L575.1 163.6L576.7 167.2L575.1 169.6Z" fill="#b91c22"/><path d="M597.6 131.8L595.6 133.1L592.8 133L591.8 131.6L591.2 129.4L592.5 127.8L594.8 127.1L596.9 128.4L598 130Z" fill="#c51e24"/><path d="M637.3 141.2L636.6 139.8L636.8 138.3L638.3 136.7L640 136.8L641.4 138.2L641.7 139.6L641.3 141.1L638.8 141.9Z" fill="#8f161b"/><path d="M665.5 151.9L666.7 153L666.3 154.7L665 155.5L663.8 155.2L663.1 153.3L664.1 152Z" fill="#6e1115"/><path d="M648.1 128.1L646.8 126.5L647 125.5L648.9 123.9L650.7 124.3L651.4 125.8L651.2 127.3L649.6 128.5Z" fill="#90151b"/><path d="M672.5 131.7L673.4 130.2L674.1 130.2L675.5 130.8L676 132L675.5 132.8L674.5 133.4L673.4 133.1L672.6 132.4Z" fill="#7e1318"/><path d="M586.3 156.4L586.4 154.5L588.2 152.8L590.2 152.9L592 154.7L591.7 156.4L590.8 157.7L588.6 158.8L587.3 157.9Z" fill="#e12329"/><path d="M554.9 169.6L552.8 171L551 170.8L549.4 168.9L549.9 166.7L551.6 165.3L553.4 165.8L554.9 167.7Z" fill="#d52127"/><path d="M596.7 177.5L596.9 179.7L594.9 181.3L592.5 180.8L591.4 179.1L591.4 177L593.7 175.5L595 175.4Z" fill="#c21e24"/><path d="M624.1 170.6L621.7 169.2L621.5 167L622.7 165.5L625.9 165.8L626.8 167.4L626.2 169.6Z" fill="#d62128"/><path d="M659.9 145.5L661 145L662.3 145.8L662.6 147L661.8 148L660.2 148.1L659.5 146.8Z" fill="#98161d"/><path d="M669.9 142.3L669.9 141.3L670.5 140.5L671.1 140.2L672 140.5L672.4 141.7L672.1 142.6L671.6 143.1L670.5 142.9Z" fill="#751116"/><path d="M629.4 119.4L630.9 118.9L632.3 120.1L632.4 121.1L632 122.8L630.1 123.2L628.7 122.5L628 120.5Z" fill="#ba1c22"/><path d="M609.7 140.5L609.3 142.9L606.8 143.7L605.4 142.5L605.6 140L607.7 138.9Z" fill="#e7242a"/><path d="M561.6 114.8L563.4 116L563.5 118.3L562.3 119.2L560 118.7L559.3 116.8L559.7 115.2Z" fill="#a4181e"/><path d="M697.5 142.9L697.9 143.7L697.8 144.8L697 145.2L695.8 145L695.4 144L695.7 143L696.6 142.7Z" fill="#7a1218"/><path d="M577.9 190.7L576.9 191.3L574.9 191.6L573.9 190.3L573.5 188.9L574.7 187.3L576.3 187L577.4 187.7L578.1 189Z" fill="#a5181e"/><path d="M683.9 126.9L685 126.1L686.1 126.5L686.3 127.8L685.4 128.7L684 128.2Z" fill="#7b1218"/><path d="M546.9 174.7L548.7 175L549.4 176.2L549 178.2L548.3 179L546.9 179L545 178.1L544.8 176.6L545.5 175Z" fill="#9d171d"/><path d="M547.5 126.9L548.4 125.3L550.4 124.9L551.5 125.3L552 127.6L550.9 128.9L549.5 129.3L548.2 128.4Z" fill="#841318"/><path d="M536.3 158.3L538.7 158.2L539.8 159.5L538.9 161.9L536.8 162.4L535.3 160.6Z" fill="#8f151a"/><path d="M674.9 123.5L675.9 123.5L676.5 124.3L676.3 125.2L675.6 125.8L674.7 125.6L674.3 124.7L674.3 124.1Z" fill="#6a1014"/><path d="M640.4 115.2L639.4 115.1L638.5 113.4L638.6 112.6L640 111.6L641.4 112.2L642.1 113.3L641.8 114.5Z" fill="#b81c22"/><path d="M670.4 153.4L669.3 153.9L668.4 153.2L668.2 152.5L668.7 151.8L669.6 151.6L670.4 152.2Z" fill="#6f1016"/><path d="M618.4 130.5L618.5 131.8L618.2 133.1L616.5 133.6L615.2 133.3L614.5 132.2L614.7 130.5L615.9 129.5L617.5 129.6Z" fill="#d02027"/><path d="M635.7 167.2L636.2 165.2L637.7 164.8L638.9 166.1L638.7 167.9L637 168.3Z" fill="#8f151a"/><path d="M615.1 117.1L613.5 117.2L612.6 116.1L612.5 114.3L614 113.4L615.1 113.4L616.5 114.6L616.3 116.2Z" fill="#bb1d22"/><path d="M573.2 173.1L574.6 172.9L575.5 173.7L576 174.6L575.4 175.9L573.7 176.8L572.4 176.2L571.9 175.1L572.4 173.7Z" fill="#e7242a"/><path d="M554.6 154.6L554.9 155.9L554 157.2L552.6 157.4L551.2 157.1L550.7 155.4L551.2 154.5L552.1 153.8L553.7 154Z" fill="#cd2026"/><path d="M689.6 139.6L688.7 138.7L689 138L689.9 137.6L690.7 138.5L690.4 139.4Z" fill="#690f14"/></g>
</g>
<text x="15.6" y="47.2" font-size="35" font-weight="bold" fill="#fff">A</text>
<text x="160.9" y="43.4" font-size="19.3" font-weight="bold" fill="#fbf3f3">35 min</text>
<text x="389.6" y="47.4" font-size="19.3" font-weight="bold" fill="#fbf3f3">50 min</text>
<text x="637.1" y="46.1" font-size="19.3" font-weight="bold" fill="#fbf3f3">60 min</text>
<rect x="206.1" y="223.2" width="21.5" height="7.2" fill="#fff"/>
<rect x="445.3" y="223.2" width="21.5" height="7.2" fill="#fff"/>
<rect x="681.4" y="223.2" width="21.5" height="7.2" fill="#fff"/>
<rect x="310.5" y="71.5" width="35" height="34.5" fill="none" stroke="#f2d02c" stroke-width="1.7"/>
<text x="312.6" y="100.2" font-size="14" font-weight="bold" fill="#e8c444">1</text>
<rect x="389.8" y="101.8" width="35.5" height="35.5" fill="none" stroke="#f2be3a" stroke-width="1.7"/>
<text x="391.2" y="130.8" font-size="14" font-weight="bold" fill="#f0c040">2</text>
<rect x="571.6" y="71.8" width="35.5" height="34.5" fill="none" stroke="#f2d02c" stroke-width="1.7"/>
<text x="573.0" y="102.8" font-size="14" font-weight="bold" fill="#ead49a">3</text>
<rect x="548.8" y="179.8" width="35" height="34.8" fill="none" stroke="#f2c436" stroke-width="1.7"/>
<text x="550.3" y="210.5" font-size="14" font-weight="bold" fill="#f0cc40">4</text>
<text x="13.2" y="297.4" font-size="34.5" font-weight="bold" fill="#0a0a0a">B</text>
<rect x="63.9" y="437.41" width="5" height="3.79" fill="#e0282f" stroke="#b8202a" stroke-width="0.6"/>
<rect x="70.22" y="351.76" width="5" height="89.44" fill="#e0282f" stroke="#b8202a" stroke-width="0.6"/>
<rect x="76.53" y="375.31" width="5" height="65.89" fill="#e0282f" stroke="#b8202a" stroke-width="0.6"/>
<rect x="82.84" y="401.92" width="5" height="39.28" fill="#e0282f" stroke="#b8202a" stroke-width="0.6"/>
<rect x="89.16" y="415.23" width="5" height="25.97" fill="#e0282f" stroke="#b8202a" stroke-width="0.6"/>
<rect x="95.48" y="428.19" width="5" height="13.01" fill="#e0282f" stroke="#b8202a" stroke-width="0.6"/>
<rect x="101.79" y="410.11" width="5" height="31.09" fill="#e0282f" stroke="#b8202a" stroke-width="0.6"/>
<rect x="108.11" y="431.95" width="5" height="9.25" fill="#e0282f" stroke="#b8202a" stroke-width="0.6"/>
<rect x="120.74" y="429.22" width="5" height="11.98" fill="#e0282f" stroke="#b8202a" stroke-width="0.6"/>
<rect x="158.62" y="421.03" width="5" height="20.17" fill="#e0282f" stroke="#b8202a" stroke-width="0.6"/>
<rect x="215.46" y="410.11" width="5" height="31.09" fill="#e0282f" stroke="#b8202a" stroke-width="0.6"/>
<path d="M61.8 270.6H234.8V441.2H61.8Z" fill="none" stroke="#585858" stroke-width="1.4"/>
<line x1="58.3" y1="441.2" x2="61.8" y2="441.2" stroke="#585858" stroke-width="1.1"/>
<text x="56.2" y="444.3" text-anchor="end" font-size="11.3" fill="#111" stroke="#111" stroke-width="0.3">0.0</text>
<line x1="59.8" y1="424.14" x2="61.8" y2="424.14" stroke="#585858" stroke-width="1"/>
<line x1="58.3" y1="407.08" x2="61.8" y2="407.08" stroke="#585858" stroke-width="1.1"/>
<text x="56.2" y="410.18" text-anchor="end" font-size="11.3" fill="#111" stroke="#111" stroke-width="0.3">0.1</text>
<line x1="59.8" y1="390.02" x2="61.8" y2="390.02" stroke="#585858" stroke-width="1"/>
<line x1="58.3" y1="372.96" x2="61.8" y2="372.96" stroke="#585858" stroke-width="1.1"/>
<text x="56.2" y="376.06" text-anchor="end" font-size="11.3" fill="#111" stroke="#111" stroke-width="0.3">0.2</text>
<line x1="59.8" y1="355.9" x2="61.8" y2="355.9" stroke="#585858" stroke-width="1"/>
<line x1="58.3" y1="338.84" x2="61.8" y2="338.84" stroke="#585858" stroke-width="1.1"/>
<text x="56.2" y="341.94" text-anchor="end" font-size="11.3" fill="#111" stroke="#111" stroke-width="0.3">0.3</text>
<line x1="59.8" y1="321.78" x2="61.8" y2="321.78" stroke="#585858" stroke-width="1"/>
<line x1="58.3" y1="304.72" x2="61.8" y2="304.72" stroke="#585858" stroke-width="1.1"/>
<text x="56.2" y="307.82" text-anchor="end" font-size="11.3" fill="#111" stroke="#111" stroke-width="0.3">0.4</text>
<line x1="59.8" y1="287.66" x2="61.8" y2="287.66" stroke="#585858" stroke-width="1"/>
<line x1="58.3" y1="270.6" x2="61.8" y2="270.6" stroke="#585858" stroke-width="1.1"/>
<text x="56.2" y="273.7" text-anchor="end" font-size="11.3" fill="#111" stroke="#111" stroke-width="0.3">0.5</text>
<line x1="66.4" y1="441.2" x2="66.4" y2="444.2" stroke="#585858" stroke-width="1.1"/>
<line x1="108.5" y1="441.2" x2="108.5" y2="444.2" stroke="#585858" stroke-width="1.1"/>
<line x1="150.6" y1="441.2" x2="150.6" y2="444.2" stroke="#585858" stroke-width="1.1"/>
<line x1="192.7" y1="441.2" x2="192.7" y2="444.2" stroke="#585858" stroke-width="1.1"/>
<line x1="234.8" y1="441.2" x2="234.8" y2="444.2" stroke="#585858" stroke-width="1.1"/>
<text x="66.4" y="455.5" text-anchor="middle" font-size="11.3" fill="#111" stroke="#111" stroke-width="0.3">0</text>
<text x="108.5" y="455.5" text-anchor="middle" font-size="11.3" fill="#111" stroke="#111" stroke-width="0.3">100</text>
<text x="150.6" y="455.5" text-anchor="middle" font-size="11.3" fill="#111" stroke="#111" stroke-width="0.3">200</text>
<text x="192.7" y="455.5" text-anchor="middle" font-size="11.3" fill="#111" stroke="#111" stroke-width="0.3">300</text>
<text x="234.8" y="455.5" text-anchor="middle" font-size="11.3" fill="#111" stroke="#111" stroke-width="0.3">400</text>
<line x1="87.45" y1="441.2" x2="87.45" y2="443.2" stroke="#585858" stroke-width="1"/>
<line x1="129.55" y1="441.2" x2="129.55" y2="443.2" stroke="#585858" stroke-width="1"/>
<line x1="171.65" y1="441.2" x2="171.65" y2="443.2" stroke="#585858" stroke-width="1"/>
<line x1="213.75" y1="441.2" x2="213.75" y2="443.2" stroke="#585858" stroke-width="1"/>
<rect x="152.8" y="276.3" width="30.5" height="11.3" fill="#e0282f"/>
<text x="187" y="287.3" font-size="13.6" fill="#111" stroke="#111" stroke-width="0.3">35 min</text>
<text transform="translate(28.6 360.3) rotate(-90)" text-anchor="middle" font-size="13.3" fill="#111" stroke="#111" stroke-width="0.3">Area Fraction</text>
<text x="148" y="478.8" text-anchor="middle" font-size="13.3" fill="#111" stroke="#111" stroke-width="0.3">Area (um<tspan font-size="7.2" dx="0.6" dy="-6">2</tspan><tspan dx="0.3" dy="6">)</tspan></text>
<rect x="299" y="439.31" width="5" height="2.09" fill="#17a04e" stroke="#108040" stroke-width="0.6"/>
<rect x="305.35" y="399.34" width="5" height="42.06" fill="#17a04e" stroke="#108040" stroke-width="0.6"/>
<rect x="311.69" y="391.14" width="5" height="50.26" fill="#17a04e" stroke="#108040" stroke-width="0.6"/>
<rect x="318.04" y="403.1" width="5" height="38.3" fill="#17a04e" stroke="#108040" stroke-width="0.6"/>
<rect x="324.38" y="406.86" width="5" height="34.54" fill="#17a04e" stroke="#108040" stroke-width="0.6"/>
<rect x="330.73" y="416.76" width="5" height="24.64" fill="#17a04e" stroke="#108040" stroke-width="0.6"/>
<rect x="337.07" y="435.89" width="5" height="5.51" fill="#17a04e" stroke="#108040" stroke-width="0.6"/>
<rect x="343.42" y="428.38" width="5" height="13.02" fill="#17a04e" stroke="#108040" stroke-width="0.6"/>
<rect x="394.18" y="427.35" width="5" height="14.05" fill="#17a04e" stroke="#108040" stroke-width="0.6"/>
<rect x="400.52" y="425.99" width="5" height="15.41" fill="#17a04e" stroke="#108040" stroke-width="0.6"/>
<rect x="419.56" y="423.25" width="5" height="18.15" fill="#17a04e" stroke="#108040" stroke-width="0.6"/>
<rect x="451.55" y="362.79" width="3.7" height="78.61" fill="#17a04e" stroke="#108040" stroke-width="0.6"/>
<path d="M297.8 270.6H468.5V441.4H297.8Z" fill="none" stroke="#585858" stroke-width="1.4"/>
<line x1="294.3" y1="441.4" x2="297.8" y2="441.4" stroke="#585858" stroke-width="1.1"/>
<text x="291.2" y="444.5" text-anchor="end" font-size="11.3" fill="#111" stroke="#111" stroke-width="0.3">0.0</text>
<line x1="295.8" y1="424.32" x2="297.8" y2="424.32" stroke="#585858" stroke-width="1"/>
<line x1="294.3" y1="407.24" x2="297.8" y2="407.24" stroke="#585858" stroke-width="1.1"/>
<text x="291.2" y="410.34" text-anchor="end" font-size="11.3" fill="#111" stroke="#111" stroke-width="0.3">0.1</text>
<line x1="295.8" y1="390.16" x2="297.8" y2="390.16" stroke="#585858" stroke-width="1"/>
<line x1="294.3" y1="373.08" x2="297.8" y2="373.08" stroke="#585858" stroke-width="1.1"/>
<text x="291.2" y="376.18" text-anchor="end" font-size="11.3" fill="#111" stroke="#111" stroke-width="0.3">0.2</text>
<line x1="295.8" y1="356" x2="297.8" y2="356" stroke="#585858" stroke-width="1"/>
<line x1="294.3" y1="338.92" x2="297.8" y2="338.92" stroke="#585858" stroke-width="1.1"/>
<text x="291.2" y="342.02" text-anchor="end" font-size="11.3" fill="#111" stroke="#111" stroke-width="0.3">0.3</text>
<line x1="295.8" y1="321.84" x2="297.8" y2="321.84" stroke="#585858" stroke-width="1"/>
<line x1="294.3" y1="304.76" x2="297.8" y2="304.76" stroke="#585858" stroke-width="1.1"/>
<text x="291.2" y="307.86" text-anchor="end" font-size="11.3" fill="#111" stroke="#111" stroke-width="0.3">0.4</text>
<line x1="295.8" y1="287.68" x2="297.8" y2="287.68" stroke="#585858" stroke-width="1"/>
<line x1="294.3" y1="270.6" x2="297.8" y2="270.6" stroke="#585858" stroke-width="1.1"/>
<text x="291.2" y="273.7" text-anchor="end" font-size="11.3" fill="#111" stroke="#111" stroke-width="0.3">0.5</text>
<line x1="301.5" y1="441.4" x2="301.5" y2="444.4" stroke="#585858" stroke-width="1.1"/>
<line x1="343.8" y1="441.4" x2="343.8" y2="444.4" stroke="#585858" stroke-width="1.1"/>
<line x1="386.1" y1="441.4" x2="386.1" y2="444.4" stroke="#585858" stroke-width="1.1"/>
<line x1="428.4" y1="441.4" x2="428.4" y2="444.4" stroke="#585858" stroke-width="1.1"/>
<line x1="453.4" y1="441.4" x2="453.4" y2="444.4" stroke="#585858" stroke-width="1.1"/>
<text x="301.5" y="455.6" text-anchor="middle" font-size="11.3" fill="#111" stroke="#111" stroke-width="0.3">0</text>
<text x="343.8" y="455.6" text-anchor="middle" font-size="11.3" fill="#111" stroke="#111" stroke-width="0.3">100</text>
<text x="386.1" y="455.6" text-anchor="middle" font-size="11.3" fill="#111" stroke="#111" stroke-width="0.3">200</text>
<text x="428.4" y="455.6" text-anchor="middle" font-size="11.3" fill="#111" stroke="#111" stroke-width="0.3">300</text>
<text x="454.3" y="455.6" text-anchor="middle" font-size="11.3" fill="#111" stroke="#111" stroke-width="0.3">1200</text>
<line x1="322.65" y1="441.4" x2="322.65" y2="443.4" stroke="#585858" stroke-width="1"/>
<line x1="364.95" y1="441.4" x2="364.95" y2="443.4" stroke="#585858" stroke-width="1"/>
<line x1="407.25" y1="441.4" x2="407.25" y2="443.4" stroke="#585858" stroke-width="1"/>
<rect x="429.5" y="439.4" width="8" height="4" fill="#fff"/>
<path d="M429 444.4L433 438.4M434 444.4L438 438.4" stroke="#585858" stroke-width="1"/>
<rect x="389.2" y="277.5" width="30.9" height="12.2" fill="#17a04e"/>
<text x="423.6" y="288.4" font-size="13.6" fill="#111" stroke="#111" stroke-width="0.3">50 min</text>
<text transform="translate(258.7 352) rotate(-90)" text-anchor="middle" font-size="13.3" fill="#111" stroke="#111" stroke-width="0.3">Area Fraction</text>
<text x="383.5" y="479.5" text-anchor="middle" font-size="13.3" fill="#111" stroke="#111" stroke-width="0.3">Area (um<tspan font-size="7.2" dx="0.6" dy="-6">2</tspan><tspan dx="0.3" dy="6">)</tspan></text>
<rect x="539.5" y="441.87" width="5" height="0.73" fill="#3748a2" stroke="#28358a" stroke-width="0.6"/>
<rect x="545.73" y="427.83" width="5" height="14.77" fill="#3748a2" stroke="#28358a" stroke-width="0.6"/>
<rect x="551.95" y="417.89" width="5" height="24.71" fill="#3748a2" stroke="#28358a" stroke-width="0.6"/>
<rect x="558.17" y="428.51" width="5" height="14.09" fill="#3748a2" stroke="#28358a" stroke-width="0.6"/>
<rect x="564.4" y="418.23" width="5" height="24.37" fill="#3748a2" stroke="#28358a" stroke-width="0.6"/>
<rect x="570.62" y="423.03" width="5" height="19.57" fill="#3748a2" stroke="#28358a" stroke-width="0.6"/>
<rect x="576.85" y="430.91" width="5" height="11.69" fill="#3748a2" stroke="#28358a" stroke-width="0.6"/>
<rect x="583.08" y="428.85" width="5" height="13.75" fill="#3748a2" stroke="#28358a" stroke-width="0.6"/>
<rect x="595.52" y="433.31" width="5" height="9.29" fill="#3748a2" stroke="#28358a" stroke-width="0.6"/>
<rect x="601.75" y="432.96" width="5" height="9.64" fill="#3748a2" stroke="#28358a" stroke-width="0.6"/>
<rect x="678" y="420.29" width="4.8" height="22.31" fill="#3748a2" stroke="#28358a" stroke-width="0.6"/>
<rect x="698.25" y="276.05" width="3.7" height="166.55" fill="#3748a2" stroke="#28358a" stroke-width="0.6"/>
<path d="M537.6 271.3H710.2V442.6H537.6Z" fill="none" stroke="#585858" stroke-width="1.4"/>
<line x1="534.1" y1="442.6" x2="537.6" y2="442.6" stroke="#585858" stroke-width="1.1"/>
<text x="532" y="445.7" text-anchor="end" font-size="11.3" fill="#111" stroke="#111" stroke-width="0.3">0.0</text>
<line x1="535.6" y1="425.47" x2="537.6" y2="425.47" stroke="#585858" stroke-width="1"/>
<line x1="534.1" y1="408.34" x2="537.6" y2="408.34" stroke="#585858" stroke-width="1.1"/>
<text x="532" y="411.44" text-anchor="end" font-size="11.3" fill="#111" stroke="#111" stroke-width="0.3">0.1</text>
<line x1="535.6" y1="391.21" x2="537.6" y2="391.21" stroke="#585858" stroke-width="1"/>
<line x1="534.1" y1="374.08" x2="537.6" y2="374.08" stroke="#585858" stroke-width="1.1"/>
<text x="532" y="377.18" text-anchor="end" font-size="11.3" fill="#111" stroke="#111" stroke-width="0.3">0.2</text>
<line x1="535.6" y1="356.95" x2="537.6" y2="356.95" stroke="#585858" stroke-width="1"/>
<line x1="534.1" y1="339.82" x2="537.6" y2="339.82" stroke="#585858" stroke-width="1.1"/>
<text x="532" y="342.92" text-anchor="end" font-size="11.3" fill="#111" stroke="#111" stroke-width="0.3">0.3</text>
<line x1="535.6" y1="322.69" x2="537.6" y2="322.69" stroke="#585858" stroke-width="1"/>
<line x1="534.1" y1="305.56" x2="537.6" y2="305.56" stroke="#585858" stroke-width="1.1"/>
<text x="532" y="308.66" text-anchor="end" font-size="11.3" fill="#111" stroke="#111" stroke-width="0.3">0.4</text>
<line x1="535.6" y1="288.43" x2="537.6" y2="288.43" stroke="#585858" stroke-width="1"/>
<line x1="534.1" y1="271.3" x2="537.6" y2="271.3" stroke="#585858" stroke-width="1.1"/>
<text x="532" y="274.4" text-anchor="end" font-size="11.3" fill="#111" stroke="#111" stroke-width="0.3">0.5</text>
<line x1="542" y1="442.6" x2="542" y2="445.6" stroke="#585858" stroke-width="1.1"/>
<line x1="583.5" y1="442.6" x2="583.5" y2="445.6" stroke="#585858" stroke-width="1.1"/>
<line x1="625" y1="442.6" x2="625" y2="445.6" stroke="#585858" stroke-width="1.1"/>
<line x1="666.5" y1="442.6" x2="666.5" y2="445.6" stroke="#585858" stroke-width="1.1"/>
<line x1="699.6" y1="442.6" x2="699.6" y2="445.6" stroke="#585858" stroke-width="1.1"/>
<text x="542" y="456.6" text-anchor="middle" font-size="11.3" fill="#111" stroke="#111" stroke-width="0.3">0</text>
<text x="583.5" y="456.6" text-anchor="middle" font-size="11.3" fill="#111" stroke="#111" stroke-width="0.3">100</text>
<text x="625" y="456.6" text-anchor="middle" font-size="11.3" fill="#111" stroke="#111" stroke-width="0.3">200</text>
<text x="666.5" y="456.6" text-anchor="middle" font-size="11.3" fill="#111" stroke="#111" stroke-width="0.3">300</text>
<text x="697.8" y="456.6" text-anchor="middle" font-size="11.3" fill="#111" stroke="#111" stroke-width="0.3">2400</text>
<line x1="562.75" y1="442.6" x2="562.75" y2="444.6" stroke="#585858" stroke-width="1"/>
<line x1="604.25" y1="442.6" x2="604.25" y2="444.6" stroke="#585858" stroke-width="1"/>
<line x1="645.75" y1="442.6" x2="645.75" y2="444.6" stroke="#585858" stroke-width="1"/>
<line x1="687.3" y1="442.6" x2="687.3" y2="444.6" stroke="#585858" stroke-width="1"/>
<line x1="705.5" y1="442.6" x2="705.5" y2="444.6" stroke="#585858" stroke-width="1"/>
<rect x="688.7" y="440.6" width="8" height="4" fill="#fff"/>
<path d="M688.2 445.6L692.2 439.6M693.2 445.6L697.2 439.6" stroke="#585858" stroke-width="1"/>
<rect x="613.7" y="277.1" width="30" height="11.8" fill="#3748a2"/>
<text x="647.4" y="288" font-size="13.6" fill="#111" stroke="#111" stroke-width="0.3">60 min</text>
<text transform="translate(497.2 353.2) rotate(-90)" text-anchor="middle" font-size="13.3" fill="#111" stroke="#111" stroke-width="0.3">Area Fraction</text>
<text x="624.5" y="479.9" text-anchor="middle" font-size="13.3" fill="#111" stroke="#111" stroke-width="0.3">Area (um<tspan font-size="7.2" dx="0.6" dy="-6">2</tspan><tspan dx="0.3" dy="6">)</tspan></text>
</svg></body></html>
